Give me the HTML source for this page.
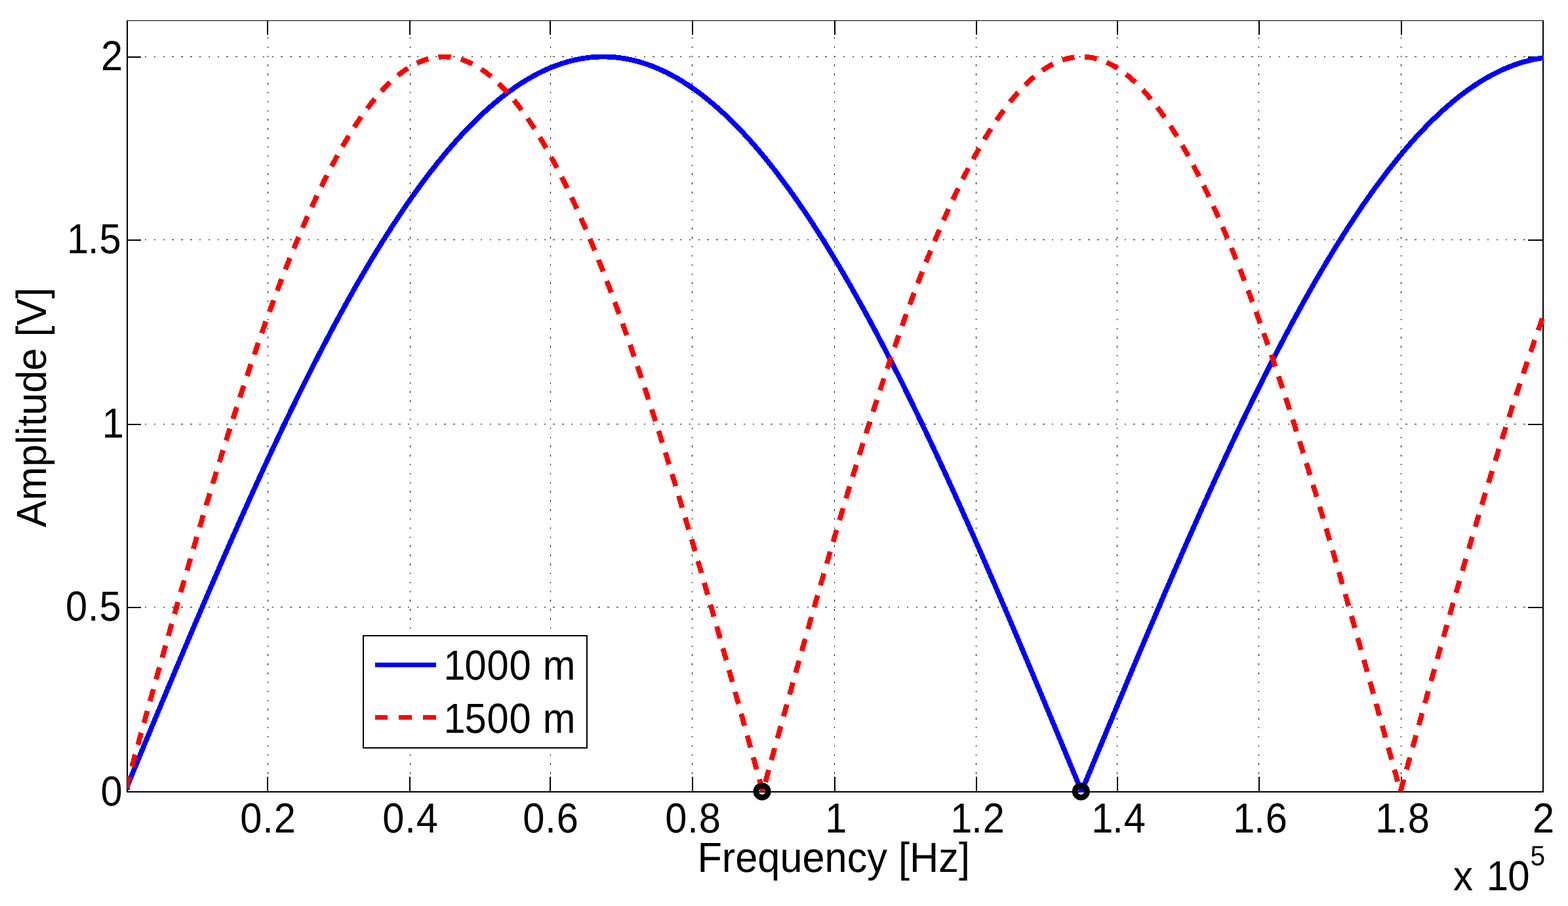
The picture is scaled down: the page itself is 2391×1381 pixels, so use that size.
<!DOCTYPE html>
<html lang="en"><head><meta charset="utf-8"><title>Amplitude vs Frequency</title>
<style>html,body{margin:0;padding:0;background:#fff;}body{width:2391px;height:1381px;overflow:hidden;}svg{display:block;}text{font-family:"Liberation Sans",sans-serif;fill:#000;text-rendering:geometricPrecision;}</style>
</head><body>
<svg width="2391" height="1381" viewBox="0 0 2391 1381">
<rect x="0" y="0" width="2391" height="1381" fill="#fff"/>
<defs><clipPath id="ax"><rect x="194" y="31" width="2162" height="1177"/></clipPath></defs>
<g fill="#000" shape-rendering="crispEdges">
<rect x="408" y="57" width="1" height="2"/><rect x="408" y="71" width="1" height="2"/><rect x="408" y="85" width="1" height="2"/><rect x="408" y="98" width="1" height="3"/><rect x="408" y="112" width="1" height="3"/><rect x="408" y="126" width="1" height="3"/><rect x="408" y="140" width="1" height="2"/><rect x="408" y="154" width="1" height="2"/><rect x="408" y="168" width="1" height="2"/><rect x="408" y="181" width="1" height="3"/><rect x="408" y="195" width="1" height="3"/><rect x="408" y="209" width="1" height="3"/><rect x="408" y="223" width="1" height="2"/><rect x="408" y="237" width="1" height="2"/><rect x="408" y="251" width="1" height="2"/><rect x="408" y="264" width="1" height="3"/><rect x="408" y="278" width="1" height="3"/><rect x="408" y="292" width="1" height="3"/><rect x="408" y="306" width="1" height="2"/><rect x="408" y="320" width="1" height="2"/><rect x="408" y="334" width="1" height="2"/><rect x="408" y="347" width="1" height="3"/><rect x="408" y="361" width="1" height="3"/><rect x="408" y="375" width="1" height="2"/><rect x="408" y="389" width="1" height="2"/><rect x="408" y="403" width="1" height="2"/><rect x="408" y="417" width="1" height="2"/><rect x="408" y="430" width="1" height="3"/><rect x="408" y="444" width="1" height="3"/><rect x="408" y="458" width="1" height="2"/><rect x="408" y="472" width="1" height="2"/><rect x="408" y="486" width="1" height="2"/><rect x="408" y="500" width="1" height="2"/><rect x="408" y="513" width="1" height="3"/><rect x="408" y="527" width="1" height="3"/><rect x="408" y="541" width="1" height="2"/><rect x="408" y="555" width="1" height="2"/><rect x="408" y="569" width="1" height="2"/><rect x="408" y="583" width="1" height="2"/><rect x="408" y="596" width="1" height="3"/><rect x="408" y="610" width="1" height="3"/><rect x="408" y="624" width="1" height="2"/><rect x="408" y="638" width="1" height="2"/><rect x="408" y="652" width="1" height="2"/><rect x="408" y="666" width="1" height="2"/><rect x="408" y="679" width="1" height="3"/><rect x="408" y="693" width="1" height="3"/><rect x="408" y="707" width="1" height="2"/><rect x="408" y="721" width="1" height="2"/><rect x="408" y="735" width="1" height="2"/><rect x="408" y="748" width="1" height="3"/><rect x="408" y="762" width="1" height="3"/><rect x="408" y="776" width="1" height="3"/><rect x="408" y="790" width="1" height="2"/><rect x="408" y="804" width="1" height="2"/><rect x="408" y="818" width="1" height="2"/><rect x="408" y="831" width="1" height="3"/><rect x="408" y="845" width="1" height="3"/><rect x="408" y="859" width="1" height="3"/><rect x="408" y="873" width="1" height="2"/><rect x="408" y="887" width="1" height="2"/><rect x="408" y="901" width="1" height="2"/><rect x="408" y="914" width="1" height="3"/><rect x="408" y="928" width="1" height="3"/><rect x="408" y="942" width="1" height="3"/><rect x="408" y="956" width="1" height="2"/><rect x="408" y="970" width="1" height="2"/><rect x="408" y="984" width="1" height="2"/><rect x="408" y="997" width="1" height="3"/><rect x="408" y="1011" width="1" height="3"/><rect x="408" y="1025" width="1" height="3"/><rect x="408" y="1039" width="1" height="2"/><rect x="408" y="1053" width="1" height="2"/><rect x="408" y="1067" width="1" height="2"/><rect x="408" y="1080" width="1" height="3"/><rect x="408" y="1094" width="1" height="3"/><rect x="408" y="1108" width="1" height="2"/><rect x="408" y="1122" width="1" height="2"/><rect x="408" y="1136" width="1" height="2"/><rect x="408" y="1150" width="1" height="2"/><rect x="408" y="1163" width="1" height="3"/><rect x="408" y="1177" width="1" height="3"/>
<rect x="625" y="57" width="1" height="2"/><rect x="625" y="71" width="1" height="2"/><rect x="625" y="85" width="1" height="2"/><rect x="625" y="98" width="1" height="3"/><rect x="625" y="112" width="1" height="3"/><rect x="625" y="126" width="1" height="3"/><rect x="625" y="140" width="1" height="2"/><rect x="625" y="154" width="1" height="2"/><rect x="625" y="168" width="1" height="2"/><rect x="625" y="181" width="1" height="3"/><rect x="625" y="195" width="1" height="3"/><rect x="625" y="209" width="1" height="3"/><rect x="625" y="223" width="1" height="2"/><rect x="625" y="237" width="1" height="2"/><rect x="625" y="251" width="1" height="2"/><rect x="625" y="264" width="1" height="3"/><rect x="625" y="278" width="1" height="3"/><rect x="625" y="292" width="1" height="3"/><rect x="625" y="306" width="1" height="2"/><rect x="625" y="320" width="1" height="2"/><rect x="625" y="334" width="1" height="2"/><rect x="625" y="347" width="1" height="3"/><rect x="625" y="361" width="1" height="3"/><rect x="625" y="375" width="1" height="2"/><rect x="625" y="389" width="1" height="2"/><rect x="625" y="403" width="1" height="2"/><rect x="625" y="417" width="1" height="2"/><rect x="625" y="430" width="1" height="3"/><rect x="625" y="444" width="1" height="3"/><rect x="625" y="458" width="1" height="2"/><rect x="625" y="472" width="1" height="2"/><rect x="625" y="486" width="1" height="2"/><rect x="625" y="500" width="1" height="2"/><rect x="625" y="513" width="1" height="3"/><rect x="625" y="527" width="1" height="3"/><rect x="625" y="541" width="1" height="2"/><rect x="625" y="555" width="1" height="2"/><rect x="625" y="569" width="1" height="2"/><rect x="625" y="583" width="1" height="2"/><rect x="625" y="596" width="1" height="3"/><rect x="625" y="610" width="1" height="3"/><rect x="625" y="624" width="1" height="2"/><rect x="625" y="638" width="1" height="2"/><rect x="625" y="652" width="1" height="2"/><rect x="625" y="666" width="1" height="2"/><rect x="625" y="679" width="1" height="3"/><rect x="625" y="693" width="1" height="3"/><rect x="625" y="707" width="1" height="2"/><rect x="625" y="721" width="1" height="2"/><rect x="625" y="735" width="1" height="2"/><rect x="625" y="748" width="1" height="3"/><rect x="625" y="762" width="1" height="3"/><rect x="625" y="776" width="1" height="3"/><rect x="625" y="790" width="1" height="2"/><rect x="625" y="804" width="1" height="2"/><rect x="625" y="818" width="1" height="2"/><rect x="625" y="831" width="1" height="3"/><rect x="625" y="845" width="1" height="3"/><rect x="625" y="859" width="1" height="3"/><rect x="625" y="873" width="1" height="2"/><rect x="625" y="887" width="1" height="2"/><rect x="625" y="901" width="1" height="2"/><rect x="625" y="914" width="1" height="3"/><rect x="625" y="928" width="1" height="3"/><rect x="625" y="942" width="1" height="3"/><rect x="625" y="956" width="1" height="2"/><rect x="625" y="970" width="1" height="2"/><rect x="625" y="984" width="1" height="2"/><rect x="625" y="997" width="1" height="3"/><rect x="625" y="1011" width="1" height="3"/><rect x="625" y="1025" width="1" height="3"/><rect x="625" y="1039" width="1" height="2"/><rect x="625" y="1053" width="1" height="2"/><rect x="625" y="1067" width="1" height="2"/><rect x="625" y="1080" width="1" height="3"/><rect x="625" y="1094" width="1" height="3"/><rect x="625" y="1108" width="1" height="2"/><rect x="625" y="1122" width="1" height="2"/><rect x="625" y="1136" width="1" height="2"/><rect x="625" y="1150" width="1" height="2"/><rect x="625" y="1163" width="1" height="3"/><rect x="625" y="1177" width="1" height="3"/>
<rect x="839" y="57" width="1" height="2"/><rect x="839" y="71" width="1" height="2"/><rect x="839" y="85" width="1" height="2"/><rect x="839" y="98" width="1" height="3"/><rect x="839" y="112" width="1" height="3"/><rect x="839" y="126" width="1" height="3"/><rect x="839" y="140" width="1" height="2"/><rect x="839" y="154" width="1" height="2"/><rect x="839" y="168" width="1" height="2"/><rect x="839" y="181" width="1" height="3"/><rect x="839" y="195" width="1" height="3"/><rect x="839" y="209" width="1" height="3"/><rect x="839" y="223" width="1" height="2"/><rect x="839" y="237" width="1" height="2"/><rect x="839" y="251" width="1" height="2"/><rect x="839" y="264" width="1" height="3"/><rect x="839" y="278" width="1" height="3"/><rect x="839" y="292" width="1" height="3"/><rect x="839" y="306" width="1" height="2"/><rect x="839" y="320" width="1" height="2"/><rect x="839" y="334" width="1" height="2"/><rect x="839" y="347" width="1" height="3"/><rect x="839" y="361" width="1" height="3"/><rect x="839" y="375" width="1" height="2"/><rect x="839" y="389" width="1" height="2"/><rect x="839" y="403" width="1" height="2"/><rect x="839" y="417" width="1" height="2"/><rect x="839" y="430" width="1" height="3"/><rect x="839" y="444" width="1" height="3"/><rect x="839" y="458" width="1" height="2"/><rect x="839" y="472" width="1" height="2"/><rect x="839" y="486" width="1" height="2"/><rect x="839" y="500" width="1" height="2"/><rect x="839" y="513" width="1" height="3"/><rect x="839" y="527" width="1" height="3"/><rect x="839" y="541" width="1" height="2"/><rect x="839" y="555" width="1" height="2"/><rect x="839" y="569" width="1" height="2"/><rect x="839" y="583" width="1" height="2"/><rect x="839" y="596" width="1" height="3"/><rect x="839" y="610" width="1" height="3"/><rect x="839" y="624" width="1" height="2"/><rect x="839" y="638" width="1" height="2"/><rect x="839" y="652" width="1" height="2"/><rect x="839" y="666" width="1" height="2"/><rect x="839" y="679" width="1" height="3"/><rect x="839" y="693" width="1" height="3"/><rect x="839" y="707" width="1" height="2"/><rect x="839" y="721" width="1" height="2"/><rect x="839" y="735" width="1" height="2"/><rect x="839" y="748" width="1" height="3"/><rect x="839" y="762" width="1" height="3"/><rect x="839" y="776" width="1" height="3"/><rect x="839" y="790" width="1" height="2"/><rect x="839" y="804" width="1" height="2"/><rect x="839" y="818" width="1" height="2"/><rect x="839" y="831" width="1" height="3"/><rect x="839" y="845" width="1" height="3"/><rect x="839" y="859" width="1" height="3"/><rect x="839" y="873" width="1" height="2"/><rect x="839" y="887" width="1" height="2"/><rect x="839" y="901" width="1" height="2"/><rect x="839" y="914" width="1" height="3"/><rect x="839" y="928" width="1" height="3"/><rect x="839" y="942" width="1" height="3"/><rect x="839" y="956" width="1" height="2"/><rect x="839" y="970" width="1" height="2"/><rect x="839" y="984" width="1" height="2"/><rect x="839" y="997" width="1" height="3"/><rect x="839" y="1011" width="1" height="3"/><rect x="839" y="1025" width="1" height="3"/><rect x="839" y="1039" width="1" height="2"/><rect x="839" y="1053" width="1" height="2"/><rect x="839" y="1067" width="1" height="2"/><rect x="839" y="1080" width="1" height="3"/><rect x="839" y="1094" width="1" height="3"/><rect x="839" y="1108" width="1" height="2"/><rect x="839" y="1122" width="1" height="2"/><rect x="839" y="1136" width="1" height="2"/><rect x="839" y="1150" width="1" height="2"/><rect x="839" y="1163" width="1" height="3"/><rect x="839" y="1177" width="1" height="3"/>
<rect x="1055" y="57" width="1" height="2"/><rect x="1055" y="71" width="1" height="2"/><rect x="1055" y="85" width="1" height="2"/><rect x="1055" y="98" width="1" height="3"/><rect x="1055" y="112" width="1" height="3"/><rect x="1055" y="126" width="1" height="3"/><rect x="1055" y="140" width="1" height="2"/><rect x="1055" y="154" width="1" height="2"/><rect x="1055" y="168" width="1" height="2"/><rect x="1055" y="181" width="1" height="3"/><rect x="1055" y="195" width="1" height="3"/><rect x="1055" y="209" width="1" height="3"/><rect x="1055" y="223" width="1" height="2"/><rect x="1055" y="237" width="1" height="2"/><rect x="1055" y="251" width="1" height="2"/><rect x="1055" y="264" width="1" height="3"/><rect x="1055" y="278" width="1" height="3"/><rect x="1055" y="292" width="1" height="3"/><rect x="1055" y="306" width="1" height="2"/><rect x="1055" y="320" width="1" height="2"/><rect x="1055" y="334" width="1" height="2"/><rect x="1055" y="347" width="1" height="3"/><rect x="1055" y="361" width="1" height="3"/><rect x="1055" y="375" width="1" height="2"/><rect x="1055" y="389" width="1" height="2"/><rect x="1055" y="403" width="1" height="2"/><rect x="1055" y="417" width="1" height="2"/><rect x="1055" y="430" width="1" height="3"/><rect x="1055" y="444" width="1" height="3"/><rect x="1055" y="458" width="1" height="2"/><rect x="1055" y="472" width="1" height="2"/><rect x="1055" y="486" width="1" height="2"/><rect x="1055" y="500" width="1" height="2"/><rect x="1055" y="513" width="1" height="3"/><rect x="1055" y="527" width="1" height="3"/><rect x="1055" y="541" width="1" height="2"/><rect x="1055" y="555" width="1" height="2"/><rect x="1055" y="569" width="1" height="2"/><rect x="1055" y="583" width="1" height="2"/><rect x="1055" y="596" width="1" height="3"/><rect x="1055" y="610" width="1" height="3"/><rect x="1055" y="624" width="1" height="2"/><rect x="1055" y="638" width="1" height="2"/><rect x="1055" y="652" width="1" height="2"/><rect x="1055" y="666" width="1" height="2"/><rect x="1055" y="679" width="1" height="3"/><rect x="1055" y="693" width="1" height="3"/><rect x="1055" y="707" width="1" height="2"/><rect x="1055" y="721" width="1" height="2"/><rect x="1055" y="735" width="1" height="2"/><rect x="1055" y="748" width="1" height="3"/><rect x="1055" y="762" width="1" height="3"/><rect x="1055" y="776" width="1" height="3"/><rect x="1055" y="790" width="1" height="2"/><rect x="1055" y="804" width="1" height="2"/><rect x="1055" y="818" width="1" height="2"/><rect x="1055" y="831" width="1" height="3"/><rect x="1055" y="845" width="1" height="3"/><rect x="1055" y="859" width="1" height="3"/><rect x="1055" y="873" width="1" height="2"/><rect x="1055" y="887" width="1" height="2"/><rect x="1055" y="901" width="1" height="2"/><rect x="1055" y="914" width="1" height="3"/><rect x="1055" y="928" width="1" height="3"/><rect x="1055" y="942" width="1" height="3"/><rect x="1055" y="956" width="1" height="2"/><rect x="1055" y="970" width="1" height="2"/><rect x="1055" y="984" width="1" height="2"/><rect x="1055" y="997" width="1" height="3"/><rect x="1055" y="1011" width="1" height="3"/><rect x="1055" y="1025" width="1" height="3"/><rect x="1055" y="1039" width="1" height="2"/><rect x="1055" y="1053" width="1" height="2"/><rect x="1055" y="1067" width="1" height="2"/><rect x="1055" y="1080" width="1" height="3"/><rect x="1055" y="1094" width="1" height="3"/><rect x="1055" y="1108" width="1" height="2"/><rect x="1055" y="1122" width="1" height="2"/><rect x="1055" y="1136" width="1" height="2"/><rect x="1055" y="1150" width="1" height="2"/><rect x="1055" y="1163" width="1" height="3"/><rect x="1055" y="1177" width="1" height="3"/>
<rect x="1272" y="57" width="1" height="2"/><rect x="1272" y="71" width="1" height="2"/><rect x="1272" y="85" width="1" height="2"/><rect x="1272" y="98" width="1" height="3"/><rect x="1272" y="112" width="1" height="3"/><rect x="1272" y="126" width="1" height="3"/><rect x="1272" y="140" width="1" height="2"/><rect x="1272" y="154" width="1" height="2"/><rect x="1272" y="168" width="1" height="2"/><rect x="1272" y="181" width="1" height="3"/><rect x="1272" y="195" width="1" height="3"/><rect x="1272" y="209" width="1" height="3"/><rect x="1272" y="223" width="1" height="2"/><rect x="1272" y="237" width="1" height="2"/><rect x="1272" y="251" width="1" height="2"/><rect x="1272" y="264" width="1" height="3"/><rect x="1272" y="278" width="1" height="3"/><rect x="1272" y="292" width="1" height="3"/><rect x="1272" y="306" width="1" height="2"/><rect x="1272" y="320" width="1" height="2"/><rect x="1272" y="334" width="1" height="2"/><rect x="1272" y="347" width="1" height="3"/><rect x="1272" y="361" width="1" height="3"/><rect x="1272" y="375" width="1" height="2"/><rect x="1272" y="389" width="1" height="2"/><rect x="1272" y="403" width="1" height="2"/><rect x="1272" y="417" width="1" height="2"/><rect x="1272" y="430" width="1" height="3"/><rect x="1272" y="444" width="1" height="3"/><rect x="1272" y="458" width="1" height="2"/><rect x="1272" y="472" width="1" height="2"/><rect x="1272" y="486" width="1" height="2"/><rect x="1272" y="500" width="1" height="2"/><rect x="1272" y="513" width="1" height="3"/><rect x="1272" y="527" width="1" height="3"/><rect x="1272" y="541" width="1" height="2"/><rect x="1272" y="555" width="1" height="2"/><rect x="1272" y="569" width="1" height="2"/><rect x="1272" y="583" width="1" height="2"/><rect x="1272" y="596" width="1" height="3"/><rect x="1272" y="610" width="1" height="3"/><rect x="1272" y="624" width="1" height="2"/><rect x="1272" y="638" width="1" height="2"/><rect x="1272" y="652" width="1" height="2"/><rect x="1272" y="666" width="1" height="2"/><rect x="1272" y="679" width="1" height="3"/><rect x="1272" y="693" width="1" height="3"/><rect x="1272" y="707" width="1" height="2"/><rect x="1272" y="721" width="1" height="2"/><rect x="1272" y="735" width="1" height="2"/><rect x="1272" y="748" width="1" height="3"/><rect x="1272" y="762" width="1" height="3"/><rect x="1272" y="776" width="1" height="3"/><rect x="1272" y="790" width="1" height="2"/><rect x="1272" y="804" width="1" height="2"/><rect x="1272" y="818" width="1" height="2"/><rect x="1272" y="831" width="1" height="3"/><rect x="1272" y="845" width="1" height="3"/><rect x="1272" y="859" width="1" height="3"/><rect x="1272" y="873" width="1" height="2"/><rect x="1272" y="887" width="1" height="2"/><rect x="1272" y="901" width="1" height="2"/><rect x="1272" y="914" width="1" height="3"/><rect x="1272" y="928" width="1" height="3"/><rect x="1272" y="942" width="1" height="3"/><rect x="1272" y="956" width="1" height="2"/><rect x="1272" y="970" width="1" height="2"/><rect x="1272" y="984" width="1" height="2"/><rect x="1272" y="997" width="1" height="3"/><rect x="1272" y="1011" width="1" height="3"/><rect x="1272" y="1025" width="1" height="3"/><rect x="1272" y="1039" width="1" height="2"/><rect x="1272" y="1053" width="1" height="2"/><rect x="1272" y="1067" width="1" height="2"/><rect x="1272" y="1080" width="1" height="3"/><rect x="1272" y="1094" width="1" height="3"/><rect x="1272" y="1108" width="1" height="2"/><rect x="1272" y="1122" width="1" height="2"/><rect x="1272" y="1136" width="1" height="2"/><rect x="1272" y="1150" width="1" height="2"/><rect x="1272" y="1163" width="1" height="3"/><rect x="1272" y="1177" width="1" height="3"/>
<rect x="1488" y="57" width="1" height="2"/><rect x="1488" y="71" width="1" height="2"/><rect x="1488" y="85" width="1" height="2"/><rect x="1488" y="98" width="1" height="3"/><rect x="1488" y="112" width="1" height="3"/><rect x="1488" y="126" width="1" height="3"/><rect x="1488" y="140" width="1" height="2"/><rect x="1488" y="154" width="1" height="2"/><rect x="1488" y="168" width="1" height="2"/><rect x="1488" y="181" width="1" height="3"/><rect x="1488" y="195" width="1" height="3"/><rect x="1488" y="209" width="1" height="3"/><rect x="1488" y="223" width="1" height="2"/><rect x="1488" y="237" width="1" height="2"/><rect x="1488" y="251" width="1" height="2"/><rect x="1488" y="264" width="1" height="3"/><rect x="1488" y="278" width="1" height="3"/><rect x="1488" y="292" width="1" height="3"/><rect x="1488" y="306" width="1" height="2"/><rect x="1488" y="320" width="1" height="2"/><rect x="1488" y="334" width="1" height="2"/><rect x="1488" y="347" width="1" height="3"/><rect x="1488" y="361" width="1" height="3"/><rect x="1488" y="375" width="1" height="2"/><rect x="1488" y="389" width="1" height="2"/><rect x="1488" y="403" width="1" height="2"/><rect x="1488" y="417" width="1" height="2"/><rect x="1488" y="430" width="1" height="3"/><rect x="1488" y="444" width="1" height="3"/><rect x="1488" y="458" width="1" height="2"/><rect x="1488" y="472" width="1" height="2"/><rect x="1488" y="486" width="1" height="2"/><rect x="1488" y="500" width="1" height="2"/><rect x="1488" y="513" width="1" height="3"/><rect x="1488" y="527" width="1" height="3"/><rect x="1488" y="541" width="1" height="2"/><rect x="1488" y="555" width="1" height="2"/><rect x="1488" y="569" width="1" height="2"/><rect x="1488" y="583" width="1" height="2"/><rect x="1488" y="596" width="1" height="3"/><rect x="1488" y="610" width="1" height="3"/><rect x="1488" y="624" width="1" height="2"/><rect x="1488" y="638" width="1" height="2"/><rect x="1488" y="652" width="1" height="2"/><rect x="1488" y="666" width="1" height="2"/><rect x="1488" y="679" width="1" height="3"/><rect x="1488" y="693" width="1" height="3"/><rect x="1488" y="707" width="1" height="2"/><rect x="1488" y="721" width="1" height="2"/><rect x="1488" y="735" width="1" height="2"/><rect x="1488" y="748" width="1" height="3"/><rect x="1488" y="762" width="1" height="3"/><rect x="1488" y="776" width="1" height="3"/><rect x="1488" y="790" width="1" height="2"/><rect x="1488" y="804" width="1" height="2"/><rect x="1488" y="818" width="1" height="2"/><rect x="1488" y="831" width="1" height="3"/><rect x="1488" y="845" width="1" height="3"/><rect x="1488" y="859" width="1" height="3"/><rect x="1488" y="873" width="1" height="2"/><rect x="1488" y="887" width="1" height="2"/><rect x="1488" y="901" width="1" height="2"/><rect x="1488" y="914" width="1" height="3"/><rect x="1488" y="928" width="1" height="3"/><rect x="1488" y="942" width="1" height="3"/><rect x="1488" y="956" width="1" height="2"/><rect x="1488" y="970" width="1" height="2"/><rect x="1488" y="984" width="1" height="2"/><rect x="1488" y="997" width="1" height="3"/><rect x="1488" y="1011" width="1" height="3"/><rect x="1488" y="1025" width="1" height="3"/><rect x="1488" y="1039" width="1" height="2"/><rect x="1488" y="1053" width="1" height="2"/><rect x="1488" y="1067" width="1" height="2"/><rect x="1488" y="1080" width="1" height="3"/><rect x="1488" y="1094" width="1" height="3"/><rect x="1488" y="1108" width="1" height="2"/><rect x="1488" y="1122" width="1" height="2"/><rect x="1488" y="1136" width="1" height="2"/><rect x="1488" y="1150" width="1" height="2"/><rect x="1488" y="1163" width="1" height="3"/><rect x="1488" y="1177" width="1" height="3"/>
<rect x="1703" y="57" width="1" height="2"/><rect x="1703" y="71" width="1" height="2"/><rect x="1703" y="85" width="1" height="2"/><rect x="1703" y="98" width="1" height="3"/><rect x="1703" y="112" width="1" height="3"/><rect x="1703" y="126" width="1" height="3"/><rect x="1703" y="140" width="1" height="2"/><rect x="1703" y="154" width="1" height="2"/><rect x="1703" y="168" width="1" height="2"/><rect x="1703" y="181" width="1" height="3"/><rect x="1703" y="195" width="1" height="3"/><rect x="1703" y="209" width="1" height="3"/><rect x="1703" y="223" width="1" height="2"/><rect x="1703" y="237" width="1" height="2"/><rect x="1703" y="251" width="1" height="2"/><rect x="1703" y="264" width="1" height="3"/><rect x="1703" y="278" width="1" height="3"/><rect x="1703" y="292" width="1" height="3"/><rect x="1703" y="306" width="1" height="2"/><rect x="1703" y="320" width="1" height="2"/><rect x="1703" y="334" width="1" height="2"/><rect x="1703" y="347" width="1" height="3"/><rect x="1703" y="361" width="1" height="3"/><rect x="1703" y="375" width="1" height="2"/><rect x="1703" y="389" width="1" height="2"/><rect x="1703" y="403" width="1" height="2"/><rect x="1703" y="417" width="1" height="2"/><rect x="1703" y="430" width="1" height="3"/><rect x="1703" y="444" width="1" height="3"/><rect x="1703" y="458" width="1" height="2"/><rect x="1703" y="472" width="1" height="2"/><rect x="1703" y="486" width="1" height="2"/><rect x="1703" y="500" width="1" height="2"/><rect x="1703" y="513" width="1" height="3"/><rect x="1703" y="527" width="1" height="3"/><rect x="1703" y="541" width="1" height="2"/><rect x="1703" y="555" width="1" height="2"/><rect x="1703" y="569" width="1" height="2"/><rect x="1703" y="583" width="1" height="2"/><rect x="1703" y="596" width="1" height="3"/><rect x="1703" y="610" width="1" height="3"/><rect x="1703" y="624" width="1" height="2"/><rect x="1703" y="638" width="1" height="2"/><rect x="1703" y="652" width="1" height="2"/><rect x="1703" y="666" width="1" height="2"/><rect x="1703" y="679" width="1" height="3"/><rect x="1703" y="693" width="1" height="3"/><rect x="1703" y="707" width="1" height="2"/><rect x="1703" y="721" width="1" height="2"/><rect x="1703" y="735" width="1" height="2"/><rect x="1703" y="748" width="1" height="3"/><rect x="1703" y="762" width="1" height="3"/><rect x="1703" y="776" width="1" height="3"/><rect x="1703" y="790" width="1" height="2"/><rect x="1703" y="804" width="1" height="2"/><rect x="1703" y="818" width="1" height="2"/><rect x="1703" y="831" width="1" height="3"/><rect x="1703" y="845" width="1" height="3"/><rect x="1703" y="859" width="1" height="3"/><rect x="1703" y="873" width="1" height="2"/><rect x="1703" y="887" width="1" height="2"/><rect x="1703" y="901" width="1" height="2"/><rect x="1703" y="914" width="1" height="3"/><rect x="1703" y="928" width="1" height="3"/><rect x="1703" y="942" width="1" height="3"/><rect x="1703" y="956" width="1" height="2"/><rect x="1703" y="970" width="1" height="2"/><rect x="1703" y="984" width="1" height="2"/><rect x="1703" y="997" width="1" height="3"/><rect x="1703" y="1011" width="1" height="3"/><rect x="1703" y="1025" width="1" height="3"/><rect x="1703" y="1039" width="1" height="2"/><rect x="1703" y="1053" width="1" height="2"/><rect x="1703" y="1067" width="1" height="2"/><rect x="1703" y="1080" width="1" height="3"/><rect x="1703" y="1094" width="1" height="3"/><rect x="1703" y="1108" width="1" height="2"/><rect x="1703" y="1122" width="1" height="2"/><rect x="1703" y="1136" width="1" height="2"/><rect x="1703" y="1150" width="1" height="2"/><rect x="1703" y="1163" width="1" height="3"/><rect x="1703" y="1177" width="1" height="3"/>
<rect x="1919" y="57" width="1" height="2"/><rect x="1919" y="71" width="1" height="2"/><rect x="1919" y="85" width="1" height="2"/><rect x="1919" y="98" width="1" height="3"/><rect x="1919" y="112" width="1" height="3"/><rect x="1919" y="126" width="1" height="3"/><rect x="1919" y="140" width="1" height="2"/><rect x="1919" y="154" width="1" height="2"/><rect x="1919" y="168" width="1" height="2"/><rect x="1919" y="181" width="1" height="3"/><rect x="1919" y="195" width="1" height="3"/><rect x="1919" y="209" width="1" height="3"/><rect x="1919" y="223" width="1" height="2"/><rect x="1919" y="237" width="1" height="2"/><rect x="1919" y="251" width="1" height="2"/><rect x="1919" y="264" width="1" height="3"/><rect x="1919" y="278" width="1" height="3"/><rect x="1919" y="292" width="1" height="3"/><rect x="1919" y="306" width="1" height="2"/><rect x="1919" y="320" width="1" height="2"/><rect x="1919" y="334" width="1" height="2"/><rect x="1919" y="347" width="1" height="3"/><rect x="1919" y="361" width="1" height="3"/><rect x="1919" y="375" width="1" height="2"/><rect x="1919" y="389" width="1" height="2"/><rect x="1919" y="403" width="1" height="2"/><rect x="1919" y="417" width="1" height="2"/><rect x="1919" y="430" width="1" height="3"/><rect x="1919" y="444" width="1" height="3"/><rect x="1919" y="458" width="1" height="2"/><rect x="1919" y="472" width="1" height="2"/><rect x="1919" y="486" width="1" height="2"/><rect x="1919" y="500" width="1" height="2"/><rect x="1919" y="513" width="1" height="3"/><rect x="1919" y="527" width="1" height="3"/><rect x="1919" y="541" width="1" height="2"/><rect x="1919" y="555" width="1" height="2"/><rect x="1919" y="569" width="1" height="2"/><rect x="1919" y="583" width="1" height="2"/><rect x="1919" y="596" width="1" height="3"/><rect x="1919" y="610" width="1" height="3"/><rect x="1919" y="624" width="1" height="2"/><rect x="1919" y="638" width="1" height="2"/><rect x="1919" y="652" width="1" height="2"/><rect x="1919" y="666" width="1" height="2"/><rect x="1919" y="679" width="1" height="3"/><rect x="1919" y="693" width="1" height="3"/><rect x="1919" y="707" width="1" height="2"/><rect x="1919" y="721" width="1" height="2"/><rect x="1919" y="735" width="1" height="2"/><rect x="1919" y="748" width="1" height="3"/><rect x="1919" y="762" width="1" height="3"/><rect x="1919" y="776" width="1" height="3"/><rect x="1919" y="790" width="1" height="2"/><rect x="1919" y="804" width="1" height="2"/><rect x="1919" y="818" width="1" height="2"/><rect x="1919" y="831" width="1" height="3"/><rect x="1919" y="845" width="1" height="3"/><rect x="1919" y="859" width="1" height="3"/><rect x="1919" y="873" width="1" height="2"/><rect x="1919" y="887" width="1" height="2"/><rect x="1919" y="901" width="1" height="2"/><rect x="1919" y="914" width="1" height="3"/><rect x="1919" y="928" width="1" height="3"/><rect x="1919" y="942" width="1" height="3"/><rect x="1919" y="956" width="1" height="2"/><rect x="1919" y="970" width="1" height="2"/><rect x="1919" y="984" width="1" height="2"/><rect x="1919" y="997" width="1" height="3"/><rect x="1919" y="1011" width="1" height="3"/><rect x="1919" y="1025" width="1" height="3"/><rect x="1919" y="1039" width="1" height="2"/><rect x="1919" y="1053" width="1" height="2"/><rect x="1919" y="1067" width="1" height="2"/><rect x="1919" y="1080" width="1" height="3"/><rect x="1919" y="1094" width="1" height="3"/><rect x="1919" y="1108" width="1" height="2"/><rect x="1919" y="1122" width="1" height="2"/><rect x="1919" y="1136" width="1" height="2"/><rect x="1919" y="1150" width="1" height="2"/><rect x="1919" y="1163" width="1" height="3"/><rect x="1919" y="1177" width="1" height="3"/>
<rect x="2136" y="57" width="1" height="2"/><rect x="2136" y="71" width="1" height="2"/><rect x="2136" y="85" width="1" height="2"/><rect x="2136" y="98" width="1" height="3"/><rect x="2136" y="112" width="1" height="3"/><rect x="2136" y="126" width="1" height="3"/><rect x="2136" y="140" width="1" height="2"/><rect x="2136" y="154" width="1" height="2"/><rect x="2136" y="168" width="1" height="2"/><rect x="2136" y="181" width="1" height="3"/><rect x="2136" y="195" width="1" height="3"/><rect x="2136" y="209" width="1" height="3"/><rect x="2136" y="223" width="1" height="2"/><rect x="2136" y="237" width="1" height="2"/><rect x="2136" y="251" width="1" height="2"/><rect x="2136" y="264" width="1" height="3"/><rect x="2136" y="278" width="1" height="3"/><rect x="2136" y="292" width="1" height="3"/><rect x="2136" y="306" width="1" height="2"/><rect x="2136" y="320" width="1" height="2"/><rect x="2136" y="334" width="1" height="2"/><rect x="2136" y="347" width="1" height="3"/><rect x="2136" y="361" width="1" height="3"/><rect x="2136" y="375" width="1" height="2"/><rect x="2136" y="389" width="1" height="2"/><rect x="2136" y="403" width="1" height="2"/><rect x="2136" y="417" width="1" height="2"/><rect x="2136" y="430" width="1" height="3"/><rect x="2136" y="444" width="1" height="3"/><rect x="2136" y="458" width="1" height="2"/><rect x="2136" y="472" width="1" height="2"/><rect x="2136" y="486" width="1" height="2"/><rect x="2136" y="500" width="1" height="2"/><rect x="2136" y="513" width="1" height="3"/><rect x="2136" y="527" width="1" height="3"/><rect x="2136" y="541" width="1" height="2"/><rect x="2136" y="555" width="1" height="2"/><rect x="2136" y="569" width="1" height="2"/><rect x="2136" y="583" width="1" height="2"/><rect x="2136" y="596" width="1" height="3"/><rect x="2136" y="610" width="1" height="3"/><rect x="2136" y="624" width="1" height="2"/><rect x="2136" y="638" width="1" height="2"/><rect x="2136" y="652" width="1" height="2"/><rect x="2136" y="666" width="1" height="2"/><rect x="2136" y="679" width="1" height="3"/><rect x="2136" y="693" width="1" height="3"/><rect x="2136" y="707" width="1" height="2"/><rect x="2136" y="721" width="1" height="2"/><rect x="2136" y="735" width="1" height="2"/><rect x="2136" y="748" width="1" height="3"/><rect x="2136" y="762" width="1" height="3"/><rect x="2136" y="776" width="1" height="3"/><rect x="2136" y="790" width="1" height="2"/><rect x="2136" y="804" width="1" height="2"/><rect x="2136" y="818" width="1" height="2"/><rect x="2136" y="831" width="1" height="3"/><rect x="2136" y="845" width="1" height="3"/><rect x="2136" y="859" width="1" height="3"/><rect x="2136" y="873" width="1" height="2"/><rect x="2136" y="887" width="1" height="2"/><rect x="2136" y="901" width="1" height="2"/><rect x="2136" y="914" width="1" height="3"/><rect x="2136" y="928" width="1" height="3"/><rect x="2136" y="942" width="1" height="3"/><rect x="2136" y="956" width="1" height="2"/><rect x="2136" y="970" width="1" height="2"/><rect x="2136" y="984" width="1" height="2"/><rect x="2136" y="997" width="1" height="3"/><rect x="2136" y="1011" width="1" height="3"/><rect x="2136" y="1025" width="1" height="3"/><rect x="2136" y="1039" width="1" height="2"/><rect x="2136" y="1053" width="1" height="2"/><rect x="2136" y="1067" width="1" height="2"/><rect x="2136" y="1080" width="1" height="3"/><rect x="2136" y="1094" width="1" height="3"/><rect x="2136" y="1108" width="1" height="2"/><rect x="2136" y="1122" width="1" height="2"/><rect x="2136" y="1136" width="1" height="2"/><rect x="2136" y="1150" width="1" height="2"/><rect x="2136" y="1163" width="1" height="3"/><rect x="2136" y="1177" width="1" height="3"/>
<rect x="221" y="925" width="2" height="1"/><rect x="235" y="925" width="2" height="1"/><rect x="249" y="925" width="2" height="1"/><rect x="262" y="925" width="3" height="1"/><rect x="276" y="925" width="3" height="1"/><rect x="290" y="925" width="3" height="1"/><rect x="304" y="925" width="2" height="1"/><rect x="318" y="925" width="2" height="1"/><rect x="332" y="925" width="2" height="1"/><rect x="345" y="925" width="3" height="1"/><rect x="359" y="925" width="3" height="1"/><rect x="373" y="925" width="3" height="1"/><rect x="387" y="925" width="2" height="1"/><rect x="401" y="925" width="2" height="1"/><rect x="415" y="925" width="2" height="1"/><rect x="428" y="925" width="3" height="1"/><rect x="442" y="925" width="3" height="1"/><rect x="456" y="925" width="3" height="1"/><rect x="470" y="925" width="2" height="1"/><rect x="484" y="925" width="2" height="1"/><rect x="498" y="925" width="2" height="1"/><rect x="511" y="925" width="3" height="1"/><rect x="525" y="925" width="3" height="1"/><rect x="539" y="925" width="2" height="1"/><rect x="553" y="925" width="2" height="1"/><rect x="567" y="925" width="2" height="1"/><rect x="581" y="925" width="2" height="1"/><rect x="594" y="925" width="3" height="1"/><rect x="608" y="925" width="3" height="1"/><rect x="622" y="925" width="2" height="1"/><rect x="636" y="925" width="2" height="1"/><rect x="650" y="925" width="2" height="1"/><rect x="664" y="925" width="2" height="1"/><rect x="677" y="925" width="3" height="1"/><rect x="691" y="925" width="3" height="1"/><rect x="705" y="925" width="2" height="1"/><rect x="719" y="925" width="2" height="1"/><rect x="733" y="925" width="2" height="1"/><rect x="747" y="925" width="2" height="1"/><rect x="760" y="925" width="3" height="1"/><rect x="774" y="925" width="3" height="1"/><rect x="788" y="925" width="2" height="1"/><rect x="802" y="925" width="2" height="1"/><rect x="816" y="925" width="2" height="1"/><rect x="830" y="925" width="2" height="1"/><rect x="843" y="925" width="3" height="1"/><rect x="857" y="925" width="3" height="1"/><rect x="871" y="925" width="2" height="1"/><rect x="885" y="925" width="2" height="1"/><rect x="899" y="925" width="2" height="1"/><rect x="912" y="925" width="3" height="1"/><rect x="926" y="925" width="3" height="1"/><rect x="940" y="925" width="3" height="1"/><rect x="954" y="925" width="2" height="1"/><rect x="968" y="925" width="2" height="1"/><rect x="982" y="925" width="2" height="1"/><rect x="995" y="925" width="3" height="1"/><rect x="1009" y="925" width="3" height="1"/><rect x="1023" y="925" width="3" height="1"/><rect x="1037" y="925" width="2" height="1"/><rect x="1051" y="925" width="2" height="1"/><rect x="1065" y="925" width="2" height="1"/><rect x="1078" y="925" width="3" height="1"/><rect x="1092" y="925" width="3" height="1"/><rect x="1106" y="925" width="3" height="1"/><rect x="1120" y="925" width="2" height="1"/><rect x="1134" y="925" width="2" height="1"/><rect x="1148" y="925" width="2" height="1"/><rect x="1161" y="925" width="3" height="1"/><rect x="1175" y="925" width="3" height="1"/><rect x="1189" y="925" width="3" height="1"/><rect x="1203" y="925" width="2" height="1"/><rect x="1217" y="925" width="2" height="1"/><rect x="1231" y="925" width="2" height="1"/><rect x="1244" y="925" width="3" height="1"/><rect x="1258" y="925" width="3" height="1"/><rect x="1272" y="925" width="2" height="1"/><rect x="1286" y="925" width="2" height="1"/><rect x="1300" y="925" width="2" height="1"/><rect x="1314" y="925" width="2" height="1"/><rect x="1327" y="925" width="3" height="1"/><rect x="1341" y="925" width="3" height="1"/><rect x="1355" y="925" width="2" height="1"/><rect x="1369" y="925" width="2" height="1"/><rect x="1383" y="925" width="2" height="1"/><rect x="1397" y="925" width="2" height="1"/><rect x="1410" y="925" width="3" height="1"/><rect x="1424" y="925" width="3" height="1"/><rect x="1438" y="925" width="2" height="1"/><rect x="1452" y="925" width="2" height="1"/><rect x="1466" y="925" width="2" height="1"/><rect x="1480" y="925" width="2" height="1"/><rect x="1493" y="925" width="3" height="1"/><rect x="1507" y="925" width="3" height="1"/><rect x="1521" y="925" width="2" height="1"/><rect x="1535" y="925" width="2" height="1"/><rect x="1549" y="925" width="2" height="1"/><rect x="1563" y="925" width="2" height="1"/><rect x="1576" y="925" width="3" height="1"/><rect x="1590" y="925" width="3" height="1"/><rect x="1604" y="925" width="2" height="1"/><rect x="1618" y="925" width="2" height="1"/><rect x="1632" y="925" width="2" height="1"/><rect x="1645" y="925" width="3" height="1"/><rect x="1659" y="925" width="3" height="1"/><rect x="1673" y="925" width="3" height="1"/><rect x="1687" y="925" width="2" height="1"/><rect x="1701" y="925" width="2" height="1"/><rect x="1715" y="925" width="2" height="1"/><rect x="1728" y="925" width="3" height="1"/><rect x="1742" y="925" width="3" height="1"/><rect x="1756" y="925" width="3" height="1"/><rect x="1770" y="925" width="2" height="1"/><rect x="1784" y="925" width="2" height="1"/><rect x="1798" y="925" width="2" height="1"/><rect x="1811" y="925" width="3" height="1"/><rect x="1825" y="925" width="3" height="1"/><rect x="1839" y="925" width="3" height="1"/><rect x="1853" y="925" width="2" height="1"/><rect x="1867" y="925" width="2" height="1"/><rect x="1881" y="925" width="2" height="1"/><rect x="1894" y="925" width="3" height="1"/><rect x="1908" y="925" width="3" height="1"/><rect x="1922" y="925" width="2" height="1"/><rect x="1936" y="925" width="2" height="1"/><rect x="1950" y="925" width="2" height="1"/><rect x="1964" y="925" width="2" height="1"/><rect x="1977" y="925" width="3" height="1"/><rect x="1991" y="925" width="3" height="1"/><rect x="2005" y="925" width="2" height="1"/><rect x="2019" y="925" width="2" height="1"/><rect x="2033" y="925" width="2" height="1"/><rect x="2047" y="925" width="2" height="1"/><rect x="2060" y="925" width="3" height="1"/><rect x="2074" y="925" width="3" height="1"/><rect x="2088" y="925" width="2" height="1"/><rect x="2102" y="925" width="2" height="1"/><rect x="2116" y="925" width="2" height="1"/><rect x="2130" y="925" width="2" height="1"/><rect x="2143" y="925" width="3" height="1"/><rect x="2157" y="925" width="3" height="1"/><rect x="2171" y="925" width="2" height="1"/><rect x="2185" y="925" width="2" height="1"/><rect x="2199" y="925" width="2" height="1"/><rect x="2213" y="925" width="2" height="1"/><rect x="2226" y="925" width="3" height="1"/><rect x="2240" y="925" width="3" height="1"/><rect x="2254" y="925" width="2" height="1"/><rect x="2268" y="925" width="2" height="1"/><rect x="2282" y="925" width="2" height="1"/><rect x="2296" y="925" width="2" height="1"/><rect x="2309" y="925" width="3" height="1"/><rect x="2323" y="925" width="3" height="1"/>
<rect x="221" y="646" width="2" height="1"/><rect x="235" y="646" width="2" height="1"/><rect x="249" y="646" width="2" height="1"/><rect x="262" y="646" width="3" height="1"/><rect x="276" y="646" width="3" height="1"/><rect x="290" y="646" width="3" height="1"/><rect x="304" y="646" width="2" height="1"/><rect x="318" y="646" width="2" height="1"/><rect x="332" y="646" width="2" height="1"/><rect x="345" y="646" width="3" height="1"/><rect x="359" y="646" width="3" height="1"/><rect x="373" y="646" width="3" height="1"/><rect x="387" y="646" width="2" height="1"/><rect x="401" y="646" width="2" height="1"/><rect x="415" y="646" width="2" height="1"/><rect x="428" y="646" width="3" height="1"/><rect x="442" y="646" width="3" height="1"/><rect x="456" y="646" width="3" height="1"/><rect x="470" y="646" width="2" height="1"/><rect x="484" y="646" width="2" height="1"/><rect x="498" y="646" width="2" height="1"/><rect x="511" y="646" width="3" height="1"/><rect x="525" y="646" width="3" height="1"/><rect x="539" y="646" width="2" height="1"/><rect x="553" y="646" width="2" height="1"/><rect x="567" y="646" width="2" height="1"/><rect x="581" y="646" width="2" height="1"/><rect x="594" y="646" width="3" height="1"/><rect x="608" y="646" width="3" height="1"/><rect x="622" y="646" width="2" height="1"/><rect x="636" y="646" width="2" height="1"/><rect x="650" y="646" width="2" height="1"/><rect x="664" y="646" width="2" height="1"/><rect x="677" y="646" width="3" height="1"/><rect x="691" y="646" width="3" height="1"/><rect x="705" y="646" width="2" height="1"/><rect x="719" y="646" width="2" height="1"/><rect x="733" y="646" width="2" height="1"/><rect x="747" y="646" width="2" height="1"/><rect x="760" y="646" width="3" height="1"/><rect x="774" y="646" width="3" height="1"/><rect x="788" y="646" width="2" height="1"/><rect x="802" y="646" width="2" height="1"/><rect x="816" y="646" width="2" height="1"/><rect x="830" y="646" width="2" height="1"/><rect x="843" y="646" width="3" height="1"/><rect x="857" y="646" width="3" height="1"/><rect x="871" y="646" width="2" height="1"/><rect x="885" y="646" width="2" height="1"/><rect x="899" y="646" width="2" height="1"/><rect x="912" y="646" width="3" height="1"/><rect x="926" y="646" width="3" height="1"/><rect x="940" y="646" width="3" height="1"/><rect x="954" y="646" width="2" height="1"/><rect x="968" y="646" width="2" height="1"/><rect x="982" y="646" width="2" height="1"/><rect x="995" y="646" width="3" height="1"/><rect x="1009" y="646" width="3" height="1"/><rect x="1023" y="646" width="3" height="1"/><rect x="1037" y="646" width="2" height="1"/><rect x="1051" y="646" width="2" height="1"/><rect x="1065" y="646" width="2" height="1"/><rect x="1078" y="646" width="3" height="1"/><rect x="1092" y="646" width="3" height="1"/><rect x="1106" y="646" width="3" height="1"/><rect x="1120" y="646" width="2" height="1"/><rect x="1134" y="646" width="2" height="1"/><rect x="1148" y="646" width="2" height="1"/><rect x="1161" y="646" width="3" height="1"/><rect x="1175" y="646" width="3" height="1"/><rect x="1189" y="646" width="3" height="1"/><rect x="1203" y="646" width="2" height="1"/><rect x="1217" y="646" width="2" height="1"/><rect x="1231" y="646" width="2" height="1"/><rect x="1244" y="646" width="3" height="1"/><rect x="1258" y="646" width="3" height="1"/><rect x="1272" y="646" width="2" height="1"/><rect x="1286" y="646" width="2" height="1"/><rect x="1300" y="646" width="2" height="1"/><rect x="1314" y="646" width="2" height="1"/><rect x="1327" y="646" width="3" height="1"/><rect x="1341" y="646" width="3" height="1"/><rect x="1355" y="646" width="2" height="1"/><rect x="1369" y="646" width="2" height="1"/><rect x="1383" y="646" width="2" height="1"/><rect x="1397" y="646" width="2" height="1"/><rect x="1410" y="646" width="3" height="1"/><rect x="1424" y="646" width="3" height="1"/><rect x="1438" y="646" width="2" height="1"/><rect x="1452" y="646" width="2" height="1"/><rect x="1466" y="646" width="2" height="1"/><rect x="1480" y="646" width="2" height="1"/><rect x="1493" y="646" width="3" height="1"/><rect x="1507" y="646" width="3" height="1"/><rect x="1521" y="646" width="2" height="1"/><rect x="1535" y="646" width="2" height="1"/><rect x="1549" y="646" width="2" height="1"/><rect x="1563" y="646" width="2" height="1"/><rect x="1576" y="646" width="3" height="1"/><rect x="1590" y="646" width="3" height="1"/><rect x="1604" y="646" width="2" height="1"/><rect x="1618" y="646" width="2" height="1"/><rect x="1632" y="646" width="2" height="1"/><rect x="1645" y="646" width="3" height="1"/><rect x="1659" y="646" width="3" height="1"/><rect x="1673" y="646" width="3" height="1"/><rect x="1687" y="646" width="2" height="1"/><rect x="1701" y="646" width="2" height="1"/><rect x="1715" y="646" width="2" height="1"/><rect x="1728" y="646" width="3" height="1"/><rect x="1742" y="646" width="3" height="1"/><rect x="1756" y="646" width="3" height="1"/><rect x="1770" y="646" width="2" height="1"/><rect x="1784" y="646" width="2" height="1"/><rect x="1798" y="646" width="2" height="1"/><rect x="1811" y="646" width="3" height="1"/><rect x="1825" y="646" width="3" height="1"/><rect x="1839" y="646" width="3" height="1"/><rect x="1853" y="646" width="2" height="1"/><rect x="1867" y="646" width="2" height="1"/><rect x="1881" y="646" width="2" height="1"/><rect x="1894" y="646" width="3" height="1"/><rect x="1908" y="646" width="3" height="1"/><rect x="1922" y="646" width="2" height="1"/><rect x="1936" y="646" width="2" height="1"/><rect x="1950" y="646" width="2" height="1"/><rect x="1964" y="646" width="2" height="1"/><rect x="1977" y="646" width="3" height="1"/><rect x="1991" y="646" width="3" height="1"/><rect x="2005" y="646" width="2" height="1"/><rect x="2019" y="646" width="2" height="1"/><rect x="2033" y="646" width="2" height="1"/><rect x="2047" y="646" width="2" height="1"/><rect x="2060" y="646" width="3" height="1"/><rect x="2074" y="646" width="3" height="1"/><rect x="2088" y="646" width="2" height="1"/><rect x="2102" y="646" width="2" height="1"/><rect x="2116" y="646" width="2" height="1"/><rect x="2130" y="646" width="2" height="1"/><rect x="2143" y="646" width="3" height="1"/><rect x="2157" y="646" width="3" height="1"/><rect x="2171" y="646" width="2" height="1"/><rect x="2185" y="646" width="2" height="1"/><rect x="2199" y="646" width="2" height="1"/><rect x="2213" y="646" width="2" height="1"/><rect x="2226" y="646" width="3" height="1"/><rect x="2240" y="646" width="3" height="1"/><rect x="2254" y="646" width="2" height="1"/><rect x="2268" y="646" width="2" height="1"/><rect x="2282" y="646" width="2" height="1"/><rect x="2296" y="646" width="2" height="1"/><rect x="2309" y="646" width="3" height="1"/><rect x="2323" y="646" width="3" height="1"/>
<rect x="221" y="365" width="2" height="1"/><rect x="235" y="365" width="2" height="1"/><rect x="249" y="365" width="2" height="1"/><rect x="262" y="365" width="3" height="1"/><rect x="276" y="365" width="3" height="1"/><rect x="290" y="365" width="3" height="1"/><rect x="304" y="365" width="2" height="1"/><rect x="318" y="365" width="2" height="1"/><rect x="332" y="365" width="2" height="1"/><rect x="345" y="365" width="3" height="1"/><rect x="359" y="365" width="3" height="1"/><rect x="373" y="365" width="3" height="1"/><rect x="387" y="365" width="2" height="1"/><rect x="401" y="365" width="2" height="1"/><rect x="415" y="365" width="2" height="1"/><rect x="428" y="365" width="3" height="1"/><rect x="442" y="365" width="3" height="1"/><rect x="456" y="365" width="3" height="1"/><rect x="470" y="365" width="2" height="1"/><rect x="484" y="365" width="2" height="1"/><rect x="498" y="365" width="2" height="1"/><rect x="511" y="365" width="3" height="1"/><rect x="525" y="365" width="3" height="1"/><rect x="539" y="365" width="2" height="1"/><rect x="553" y="365" width="2" height="1"/><rect x="567" y="365" width="2" height="1"/><rect x="581" y="365" width="2" height="1"/><rect x="594" y="365" width="3" height="1"/><rect x="608" y="365" width="3" height="1"/><rect x="622" y="365" width="2" height="1"/><rect x="636" y="365" width="2" height="1"/><rect x="650" y="365" width="2" height="1"/><rect x="664" y="365" width="2" height="1"/><rect x="677" y="365" width="3" height="1"/><rect x="691" y="365" width="3" height="1"/><rect x="705" y="365" width="2" height="1"/><rect x="719" y="365" width="2" height="1"/><rect x="733" y="365" width="2" height="1"/><rect x="747" y="365" width="2" height="1"/><rect x="760" y="365" width="3" height="1"/><rect x="774" y="365" width="3" height="1"/><rect x="788" y="365" width="2" height="1"/><rect x="802" y="365" width="2" height="1"/><rect x="816" y="365" width="2" height="1"/><rect x="830" y="365" width="2" height="1"/><rect x="843" y="365" width="3" height="1"/><rect x="857" y="365" width="3" height="1"/><rect x="871" y="365" width="2" height="1"/><rect x="885" y="365" width="2" height="1"/><rect x="899" y="365" width="2" height="1"/><rect x="912" y="365" width="3" height="1"/><rect x="926" y="365" width="3" height="1"/><rect x="940" y="365" width="3" height="1"/><rect x="954" y="365" width="2" height="1"/><rect x="968" y="365" width="2" height="1"/><rect x="982" y="365" width="2" height="1"/><rect x="995" y="365" width="3" height="1"/><rect x="1009" y="365" width="3" height="1"/><rect x="1023" y="365" width="3" height="1"/><rect x="1037" y="365" width="2" height="1"/><rect x="1051" y="365" width="2" height="1"/><rect x="1065" y="365" width="2" height="1"/><rect x="1078" y="365" width="3" height="1"/><rect x="1092" y="365" width="3" height="1"/><rect x="1106" y="365" width="3" height="1"/><rect x="1120" y="365" width="2" height="1"/><rect x="1134" y="365" width="2" height="1"/><rect x="1148" y="365" width="2" height="1"/><rect x="1161" y="365" width="3" height="1"/><rect x="1175" y="365" width="3" height="1"/><rect x="1189" y="365" width="3" height="1"/><rect x="1203" y="365" width="2" height="1"/><rect x="1217" y="365" width="2" height="1"/><rect x="1231" y="365" width="2" height="1"/><rect x="1244" y="365" width="3" height="1"/><rect x="1258" y="365" width="3" height="1"/><rect x="1272" y="365" width="2" height="1"/><rect x="1286" y="365" width="2" height="1"/><rect x="1300" y="365" width="2" height="1"/><rect x="1314" y="365" width="2" height="1"/><rect x="1327" y="365" width="3" height="1"/><rect x="1341" y="365" width="3" height="1"/><rect x="1355" y="365" width="2" height="1"/><rect x="1369" y="365" width="2" height="1"/><rect x="1383" y="365" width="2" height="1"/><rect x="1397" y="365" width="2" height="1"/><rect x="1410" y="365" width="3" height="1"/><rect x="1424" y="365" width="3" height="1"/><rect x="1438" y="365" width="2" height="1"/><rect x="1452" y="365" width="2" height="1"/><rect x="1466" y="365" width="2" height="1"/><rect x="1480" y="365" width="2" height="1"/><rect x="1493" y="365" width="3" height="1"/><rect x="1507" y="365" width="3" height="1"/><rect x="1521" y="365" width="2" height="1"/><rect x="1535" y="365" width="2" height="1"/><rect x="1549" y="365" width="2" height="1"/><rect x="1563" y="365" width="2" height="1"/><rect x="1576" y="365" width="3" height="1"/><rect x="1590" y="365" width="3" height="1"/><rect x="1604" y="365" width="2" height="1"/><rect x="1618" y="365" width="2" height="1"/><rect x="1632" y="365" width="2" height="1"/><rect x="1645" y="365" width="3" height="1"/><rect x="1659" y="365" width="3" height="1"/><rect x="1673" y="365" width="3" height="1"/><rect x="1687" y="365" width="2" height="1"/><rect x="1701" y="365" width="2" height="1"/><rect x="1715" y="365" width="2" height="1"/><rect x="1728" y="365" width="3" height="1"/><rect x="1742" y="365" width="3" height="1"/><rect x="1756" y="365" width="3" height="1"/><rect x="1770" y="365" width="2" height="1"/><rect x="1784" y="365" width="2" height="1"/><rect x="1798" y="365" width="2" height="1"/><rect x="1811" y="365" width="3" height="1"/><rect x="1825" y="365" width="3" height="1"/><rect x="1839" y="365" width="3" height="1"/><rect x="1853" y="365" width="2" height="1"/><rect x="1867" y="365" width="2" height="1"/><rect x="1881" y="365" width="2" height="1"/><rect x="1894" y="365" width="3" height="1"/><rect x="1908" y="365" width="3" height="1"/><rect x="1922" y="365" width="2" height="1"/><rect x="1936" y="365" width="2" height="1"/><rect x="1950" y="365" width="2" height="1"/><rect x="1964" y="365" width="2" height="1"/><rect x="1977" y="365" width="3" height="1"/><rect x="1991" y="365" width="3" height="1"/><rect x="2005" y="365" width="2" height="1"/><rect x="2019" y="365" width="2" height="1"/><rect x="2033" y="365" width="2" height="1"/><rect x="2047" y="365" width="2" height="1"/><rect x="2060" y="365" width="3" height="1"/><rect x="2074" y="365" width="3" height="1"/><rect x="2088" y="365" width="2" height="1"/><rect x="2102" y="365" width="2" height="1"/><rect x="2116" y="365" width="2" height="1"/><rect x="2130" y="365" width="2" height="1"/><rect x="2143" y="365" width="3" height="1"/><rect x="2157" y="365" width="3" height="1"/><rect x="2171" y="365" width="2" height="1"/><rect x="2185" y="365" width="2" height="1"/><rect x="2199" y="365" width="2" height="1"/><rect x="2213" y="365" width="2" height="1"/><rect x="2226" y="365" width="3" height="1"/><rect x="2240" y="365" width="3" height="1"/><rect x="2254" y="365" width="2" height="1"/><rect x="2268" y="365" width="2" height="1"/><rect x="2282" y="365" width="2" height="1"/><rect x="2296" y="365" width="2" height="1"/><rect x="2309" y="365" width="3" height="1"/><rect x="2323" y="365" width="3" height="1"/>
<rect x="221" y="86" width="2" height="1"/><rect x="235" y="86" width="2" height="1"/><rect x="249" y="86" width="2" height="1"/><rect x="262" y="86" width="3" height="1"/><rect x="276" y="86" width="3" height="1"/><rect x="290" y="86" width="3" height="1"/><rect x="304" y="86" width="2" height="1"/><rect x="318" y="86" width="2" height="1"/><rect x="332" y="86" width="2" height="1"/><rect x="345" y="86" width="3" height="1"/><rect x="359" y="86" width="3" height="1"/><rect x="373" y="86" width="3" height="1"/><rect x="387" y="86" width="2" height="1"/><rect x="401" y="86" width="2" height="1"/><rect x="415" y="86" width="2" height="1"/><rect x="428" y="86" width="3" height="1"/><rect x="442" y="86" width="3" height="1"/><rect x="456" y="86" width="3" height="1"/><rect x="470" y="86" width="2" height="1"/><rect x="484" y="86" width="2" height="1"/><rect x="498" y="86" width="2" height="1"/><rect x="511" y="86" width="3" height="1"/><rect x="525" y="86" width="3" height="1"/><rect x="539" y="86" width="2" height="1"/><rect x="553" y="86" width="2" height="1"/><rect x="567" y="86" width="2" height="1"/><rect x="581" y="86" width="2" height="1"/><rect x="594" y="86" width="3" height="1"/><rect x="608" y="86" width="3" height="1"/><rect x="622" y="86" width="2" height="1"/><rect x="636" y="86" width="2" height="1"/><rect x="650" y="86" width="2" height="1"/><rect x="664" y="86" width="2" height="1"/><rect x="677" y="86" width="3" height="1"/><rect x="691" y="86" width="3" height="1"/><rect x="705" y="86" width="2" height="1"/><rect x="719" y="86" width="2" height="1"/><rect x="733" y="86" width="2" height="1"/><rect x="747" y="86" width="2" height="1"/><rect x="760" y="86" width="3" height="1"/><rect x="774" y="86" width="3" height="1"/><rect x="788" y="86" width="2" height="1"/><rect x="802" y="86" width="2" height="1"/><rect x="816" y="86" width="2" height="1"/><rect x="830" y="86" width="2" height="1"/><rect x="843" y="86" width="3" height="1"/><rect x="857" y="86" width="3" height="1"/><rect x="871" y="86" width="2" height="1"/><rect x="885" y="86" width="2" height="1"/><rect x="899" y="86" width="2" height="1"/><rect x="912" y="86" width="3" height="1"/><rect x="926" y="86" width="3" height="1"/><rect x="940" y="86" width="3" height="1"/><rect x="954" y="86" width="2" height="1"/><rect x="968" y="86" width="2" height="1"/><rect x="982" y="86" width="2" height="1"/><rect x="995" y="86" width="3" height="1"/><rect x="1009" y="86" width="3" height="1"/><rect x="1023" y="86" width="3" height="1"/><rect x="1037" y="86" width="2" height="1"/><rect x="1051" y="86" width="2" height="1"/><rect x="1065" y="86" width="2" height="1"/><rect x="1078" y="86" width="3" height="1"/><rect x="1092" y="86" width="3" height="1"/><rect x="1106" y="86" width="3" height="1"/><rect x="1120" y="86" width="2" height="1"/><rect x="1134" y="86" width="2" height="1"/><rect x="1148" y="86" width="2" height="1"/><rect x="1161" y="86" width="3" height="1"/><rect x="1175" y="86" width="3" height="1"/><rect x="1189" y="86" width="3" height="1"/><rect x="1203" y="86" width="2" height="1"/><rect x="1217" y="86" width="2" height="1"/><rect x="1231" y="86" width="2" height="1"/><rect x="1244" y="86" width="3" height="1"/><rect x="1258" y="86" width="3" height="1"/><rect x="1272" y="86" width="2" height="1"/><rect x="1286" y="86" width="2" height="1"/><rect x="1300" y="86" width="2" height="1"/><rect x="1314" y="86" width="2" height="1"/><rect x="1327" y="86" width="3" height="1"/><rect x="1341" y="86" width="3" height="1"/><rect x="1355" y="86" width="2" height="1"/><rect x="1369" y="86" width="2" height="1"/><rect x="1383" y="86" width="2" height="1"/><rect x="1397" y="86" width="2" height="1"/><rect x="1410" y="86" width="3" height="1"/><rect x="1424" y="86" width="3" height="1"/><rect x="1438" y="86" width="2" height="1"/><rect x="1452" y="86" width="2" height="1"/><rect x="1466" y="86" width="2" height="1"/><rect x="1480" y="86" width="2" height="1"/><rect x="1493" y="86" width="3" height="1"/><rect x="1507" y="86" width="3" height="1"/><rect x="1521" y="86" width="2" height="1"/><rect x="1535" y="86" width="2" height="1"/><rect x="1549" y="86" width="2" height="1"/><rect x="1563" y="86" width="2" height="1"/><rect x="1576" y="86" width="3" height="1"/><rect x="1590" y="86" width="3" height="1"/><rect x="1604" y="86" width="2" height="1"/><rect x="1618" y="86" width="2" height="1"/><rect x="1632" y="86" width="2" height="1"/><rect x="1645" y="86" width="3" height="1"/><rect x="1659" y="86" width="3" height="1"/><rect x="1673" y="86" width="3" height="1"/><rect x="1687" y="86" width="2" height="1"/><rect x="1701" y="86" width="2" height="1"/><rect x="1715" y="86" width="2" height="1"/><rect x="1728" y="86" width="3" height="1"/><rect x="1742" y="86" width="3" height="1"/><rect x="1756" y="86" width="3" height="1"/><rect x="1770" y="86" width="2" height="1"/><rect x="1784" y="86" width="2" height="1"/><rect x="1798" y="86" width="2" height="1"/><rect x="1811" y="86" width="3" height="1"/><rect x="1825" y="86" width="3" height="1"/><rect x="1839" y="86" width="3" height="1"/><rect x="1853" y="86" width="2" height="1"/><rect x="1867" y="86" width="2" height="1"/><rect x="1881" y="86" width="2" height="1"/><rect x="1894" y="86" width="3" height="1"/><rect x="1908" y="86" width="3" height="1"/><rect x="1922" y="86" width="2" height="1"/><rect x="1936" y="86" width="2" height="1"/><rect x="1950" y="86" width="2" height="1"/><rect x="1964" y="86" width="2" height="1"/><rect x="1977" y="86" width="3" height="1"/><rect x="1991" y="86" width="3" height="1"/><rect x="2005" y="86" width="2" height="1"/><rect x="2019" y="86" width="2" height="1"/><rect x="2033" y="86" width="2" height="1"/><rect x="2047" y="86" width="2" height="1"/><rect x="2060" y="86" width="3" height="1"/><rect x="2074" y="86" width="3" height="1"/><rect x="2088" y="86" width="2" height="1"/><rect x="2102" y="86" width="2" height="1"/><rect x="2116" y="86" width="2" height="1"/><rect x="2130" y="86" width="2" height="1"/><rect x="2143" y="86" width="3" height="1"/><rect x="2157" y="86" width="3" height="1"/><rect x="2171" y="86" width="2" height="1"/><rect x="2185" y="86" width="2" height="1"/><rect x="2199" y="86" width="2" height="1"/><rect x="2213" y="86" width="2" height="1"/><rect x="2226" y="86" width="3" height="1"/><rect x="2240" y="86" width="3" height="1"/><rect x="2254" y="86" width="2" height="1"/><rect x="2268" y="86" width="2" height="1"/><rect x="2282" y="86" width="2" height="1"/><rect x="2296" y="86" width="2" height="1"/><rect x="2309" y="86" width="3" height="1"/><rect x="2323" y="86" width="3" height="1"/>
</g>
<g fill="#000" shape-rendering="crispEdges">
<rect x="193" y="31" width="2" height="1177"/>
<rect x="2352" y="31" width="2" height="1177"/>
<rect x="193" y="31" width="2161" height="1"/>
<rect x="193" y="1206" width="2161" height="2"/>
<rect x="407" y="31" width="2" height="22"/>
<rect x="407" y="1184" width="2" height="24"/>
<rect x="624" y="31" width="2" height="22"/>
<rect x="624" y="1184" width="2" height="24"/>
<rect x="838" y="31" width="2" height="22"/>
<rect x="838" y="1184" width="2" height="24"/>
<rect x="1055" y="31" width="2" height="22"/>
<rect x="1055" y="1184" width="2" height="24"/>
<rect x="1272" y="31" width="2" height="22"/>
<rect x="1272" y="1184" width="2" height="24"/>
<rect x="1488" y="31" width="2" height="22"/>
<rect x="1488" y="1184" width="2" height="24"/>
<rect x="1703" y="31" width="2" height="22"/>
<rect x="1703" y="1184" width="2" height="24"/>
<rect x="1919" y="31" width="2" height="22"/>
<rect x="1919" y="1184" width="2" height="24"/>
<rect x="2136" y="31" width="2" height="22"/>
<rect x="2136" y="1184" width="2" height="24"/>
<rect x="193" y="925" width="22" height="2"/>
<rect x="2330" y="925" width="24" height="2"/>
<rect x="193" y="646" width="22" height="2"/>
<rect x="2330" y="646" width="24" height="2"/>
<rect x="193" y="365" width="22" height="2"/>
<rect x="2330" y="365" width="24" height="2"/>
<rect x="193" y="86" width="22" height="2"/>
<rect x="2330" y="86" width="24" height="2"/>
</g>
<g clip-path="url(#ax)" fill="none" stroke-linejoin="round" shape-rendering="crispEdges">
<path d="M194.00 1203.50 L194.00 1198.30 L195.80 1193.96 L197.60 1189.62 L199.40 1185.27 L201.20 1180.93 L203.00 1176.59 L204.80 1172.25 L206.60 1167.91 L208.40 1163.57 L210.20 1159.24 L212.00 1154.90 L213.80 1150.56 L215.60 1146.22 L217.40 1141.89 L219.20 1137.56 L221.00 1133.22 L222.80 1128.89 L224.60 1124.56 L226.40 1120.23 L228.20 1115.90 L230.00 1111.57 L231.80 1107.25 L233.60 1102.92 L235.40 1098.60 L237.20 1094.28 L239.00 1089.96 L240.80 1085.64 L242.60 1081.33 L244.40 1077.02 L246.20 1072.70 L248.00 1068.39 L249.80 1064.09 L251.60 1059.78 L253.40 1055.48 L255.20 1051.18 L257.00 1046.88 L258.80 1042.58 L260.60 1038.29 L262.40 1034.00 L264.20 1029.71 L266.00 1025.42 L267.80 1021.14 L269.60 1016.86 L271.40 1012.58 L273.20 1008.30 L275.00 1004.03 L276.80 999.76 L278.60 995.50 L280.40 991.23 L282.20 986.97 L284.00 982.72 L285.80 978.47 L287.60 974.22 L289.40 969.97 L291.20 965.73 L293.00 961.49 L294.80 957.26 L296.60 953.02 L298.40 948.80 L300.20 944.57 L302.00 940.35 L303.80 936.14 L305.60 931.93 L307.40 927.72 L309.20 923.52 L311.00 919.32 L312.80 915.12 L314.60 910.93 L316.40 906.75 L318.20 902.57 L320.00 898.39 L321.80 894.22 L323.60 890.05 L325.40 885.89 L327.20 881.73 L329.00 877.58 L330.80 873.43 L332.60 869.29 L334.40 865.15 L336.20 861.01 L338.00 856.89 L339.80 852.76 L341.60 848.65 L343.40 844.54 L345.20 840.43 L347.00 836.33 L348.80 832.23 L350.60 828.14 L352.40 824.06 L354.20 819.98 L356.00 815.91 L357.80 811.84 L359.60 807.78 L361.40 803.73 L363.20 799.68 L365.00 795.64 L366.80 791.60 L368.60 787.57 L370.40 783.55 L372.20 779.53 L374.00 775.52 L375.80 771.52 L377.60 767.52 L379.40 763.53 L381.20 759.54 L383.00 755.57 L384.80 751.59 L386.60 747.63 L388.40 743.67 L390.20 739.72 L392.00 735.78 L393.80 731.84 L395.60 727.91 L397.40 723.99 L399.20 720.08 L401.00 716.17 L402.80 712.27 L404.60 708.38 L406.40 704.49 L408.20 700.61 L410.00 696.74 L411.80 692.88 L413.60 689.03 L415.40 685.18 L417.20 681.34 L419.00 677.51 L420.80 673.69 L422.60 669.87 L424.40 666.07 L426.20 662.27 L428.00 658.48 L429.80 654.69 L431.60 650.92 L433.40 647.15 L435.20 643.40 L437.00 639.65 L438.80 635.91 L440.60 632.17 L442.40 628.45 L444.20 624.74 L446.00 621.03 L447.80 617.33 L449.60 613.65 L451.40 609.97 L453.20 606.30 L455.00 602.63 L456.80 598.98 L458.60 595.34 L460.40 591.71 L462.20 588.08 L464.00 584.47 L465.80 580.86 L467.60 577.26 L469.40 573.68 L471.20 570.10 L473.00 566.53 L474.80 562.97 L476.60 559.42 L478.40 555.88 L480.20 552.35 L482.00 548.83 L483.80 545.32 L485.60 541.83 L487.40 538.34 L489.20 534.86 L491.00 531.39 L492.80 527.93 L494.60 524.48 L496.40 521.04 L498.20 517.61 L500.00 514.19 L501.80 510.78 L503.60 507.39 L505.40 504.00 L507.20 500.62 L509.00 497.26 L510.80 493.90 L512.60 490.56 L514.40 487.22 L516.20 483.90 L518.00 480.59 L519.80 477.29 L521.60 474.00 L523.40 470.72 L525.20 467.45 L527.00 464.20 L528.80 460.95 L530.60 457.71 L532.40 454.49 L534.20 451.28 L536.00 448.08 L537.80 444.89 L539.60 441.71 L541.40 438.55 L543.20 435.39 L545.00 432.25 L546.80 429.12 L548.60 426.00 L550.40 422.89 L552.20 419.79 L554.00 416.71 L555.80 413.63 L557.60 410.57 L559.40 407.53 L561.20 404.49 L563.00 401.46 L564.80 398.45 L566.60 395.45 L568.40 392.46 L570.20 389.49 L572.00 386.52 L573.80 383.57 L575.60 380.63 L577.40 377.71 L579.20 374.79 L581.00 371.89 L582.80 369.00 L584.60 366.12 L586.40 363.26 L588.20 360.41 L590.00 357.57 L591.80 354.74 L593.60 351.93 L595.40 349.13 L597.20 346.34 L599.00 343.57 L600.80 340.81 L602.60 338.06 L604.40 335.32 L606.20 332.60 L608.00 329.89 L609.80 327.20 L611.60 324.51 L613.40 321.85 L615.20 319.19 L617.00 316.55 L618.80 313.92 L620.60 311.30 L622.40 308.70 L624.20 306.11 L626.00 303.53 L627.80 300.97 L629.60 298.42 L631.40 295.89 L633.20 293.37 L635.00 290.86 L636.80 288.37 L638.60 285.89 L640.40 283.42 L642.20 280.97 L644.00 278.53 L645.80 276.11 L647.60 273.70 L649.40 271.30 L651.20 268.92 L653.00 266.55 L654.80 264.20 L656.60 261.86 L658.40 259.53 L660.20 257.22 L662.00 254.92 L663.80 252.64 L665.60 250.37 L667.40 248.12 L669.20 245.88 L671.00 243.65 L672.80 241.44 L674.60 239.25 L676.40 237.06 L678.20 234.90 L680.00 232.74 L681.80 230.61 L683.60 228.48 L685.40 226.38 L687.20 224.28 L689.00 222.20 L690.80 220.14 L692.60 218.09 L694.40 216.05 L696.20 214.03 L698.00 212.03 L699.80 210.04 L701.60 208.07 L703.40 206.11 L705.20 204.16 L707.00 202.23 L708.80 200.32 L710.60 198.42 L712.40 196.53 L714.20 194.66 L716.00 192.81 L717.80 190.97 L719.60 189.15 L721.40 187.34 L723.20 185.55 L725.00 183.77 L726.80 182.01 L728.60 180.26 L730.40 178.53 L732.20 176.81 L734.00 175.11 L735.80 173.43 L737.60 171.76 L739.40 170.10 L741.20 168.47 L743.00 166.84 L744.80 165.24 L746.60 163.64 L748.40 162.07 L750.20 160.51 L752.00 158.96 L753.80 157.44 L755.60 155.92 L757.40 154.43 L759.20 152.95 L761.00 151.48 L762.80 150.03 L764.60 148.60 L766.40 147.18 L768.20 145.78 L770.00 144.39 L771.80 143.02 L773.60 141.67 L775.40 140.33 L777.20 139.01 L779.00 137.70 L780.80 136.41 L782.60 135.14 L784.40 133.88 L786.20 132.64 L788.00 131.41 L789.80 130.20 L791.60 129.01 L793.40 127.84 L795.20 126.67 L797.00 125.53 L798.80 124.40 L800.60 123.29 L802.40 122.19 L804.20 121.12 L806.00 120.05 L807.80 119.01 L809.60 117.98 L811.40 116.96 L813.20 115.96 L815.00 114.98 L816.80 114.02 L818.60 113.07 L820.40 112.14 L822.20 111.22 L824.00 110.32 L825.80 109.44 L827.60 108.57 L829.40 107.73 L831.20 106.89 L833.00 106.08 L834.80 105.28 L836.60 104.49 L838.40 103.73 L840.20 102.98 L842.00 102.24 L843.80 101.52 L845.60 100.82 L847.40 100.14 L849.20 99.47 L851.00 98.82 L852.80 98.19 L854.60 97.57 L856.40 96.97 L858.20 96.39 L860.00 95.82 L861.80 95.27 L863.60 94.73 L865.40 94.22 L867.20 93.72 L869.00 93.23 L870.80 92.77 L872.60 92.32 L874.40 91.88 L876.20 91.47 L878.00 91.07 L879.80 90.68 L881.60 90.32 L883.40 89.97 L885.20 89.63 L887.00 89.32 L888.80 89.02 L890.60 88.73 L892.40 88.47 L894.20 88.22 L896.00 87.99 L897.80 87.77 L899.60 87.57 L901.40 87.39 L903.20 87.23 L905.00 87.08 L906.80 86.95 L908.60 86.83 L910.40 86.74 L912.20 86.66 L914.00 86.59 L915.80 86.54 L917.60 86.51 L919.40 86.50 L921.20 86.50 L923.00 86.52 L924.80 86.56 L926.60 86.62 L928.40 86.69 L930.20 86.77 L932.00 86.88 L933.80 87.00 L935.60 87.14 L937.40 87.29 L939.20 87.46 L941.00 87.65 L942.80 87.86 L944.60 88.08 L946.40 88.32 L948.20 88.57 L950.00 88.85 L951.80 89.14 L953.60 89.44 L955.40 89.77 L957.20 90.10 L959.00 90.46 L960.80 90.83 L962.60 91.22 L964.40 91.63 L966.20 92.05 L968.00 92.50 L969.80 92.95 L971.60 93.43 L973.40 93.92 L975.20 94.42 L977.00 94.95 L978.80 95.49 L980.60 96.05 L982.40 96.62 L984.20 97.21 L986.00 97.82 L987.80 98.44 L989.60 99.08 L991.40 99.74 L993.20 100.41 L995.00 101.10 L996.80 101.81 L998.60 102.53 L1000.40 103.28 L1002.20 104.03 L1004.00 104.81 L1005.80 105.60 L1007.60 106.40 L1009.40 107.23 L1011.20 108.07 L1013.00 108.92 L1014.80 109.79 L1016.60 110.68 L1018.40 111.59 L1020.20 112.51 L1022.00 113.45 L1023.80 114.40 L1025.60 115.38 L1027.40 116.36 L1029.20 117.37 L1031.00 118.39 L1032.80 119.43 L1034.60 120.48 L1036.40 121.55 L1038.20 122.63 L1040.00 123.74 L1041.80 124.85 L1043.60 125.99 L1045.40 127.14 L1047.20 128.31 L1049.00 129.49 L1050.80 130.69 L1052.60 131.91 L1054.40 133.14 L1056.20 134.39 L1058.00 135.65 L1059.80 136.93 L1061.60 138.23 L1063.40 139.54 L1065.20 140.87 L1067.00 142.21 L1068.80 143.57 L1070.60 144.95 L1072.40 146.34 L1074.20 147.75 L1076.00 149.17 L1077.80 150.61 L1079.60 152.07 L1081.40 153.54 L1083.20 155.03 L1085.00 156.53 L1086.80 158.05 L1088.60 159.58 L1090.40 161.14 L1092.20 162.70 L1094.00 164.28 L1095.80 165.88 L1097.60 167.49 L1099.40 169.12 L1101.20 170.77 L1103.00 172.43 L1104.80 174.10 L1106.60 175.80 L1108.40 177.50 L1110.20 179.22 L1112.00 180.96 L1113.80 182.71 L1115.60 184.48 L1117.40 186.27 L1119.20 188.07 L1121.00 189.88 L1122.80 191.71 L1124.60 193.55 L1126.40 195.41 L1128.20 197.29 L1130.00 199.18 L1131.80 201.09 L1133.60 203.01 L1135.40 204.94 L1137.20 206.89 L1139.00 208.86 L1140.80 210.84 L1142.60 212.84 L1144.40 214.85 L1146.20 216.87 L1148.00 218.91 L1149.80 220.97 L1151.60 223.04 L1153.40 225.12 L1155.20 227.22 L1157.00 229.34 L1158.80 231.47 L1160.60 233.61 L1162.40 235.77 L1164.20 237.94 L1166.00 240.13 L1167.80 242.33 L1169.60 244.55 L1171.40 246.78 L1173.20 249.02 L1175.00 251.28 L1176.80 253.56 L1178.60 255.85 L1180.40 258.15 L1182.20 260.47 L1184.00 262.80 L1185.80 265.14 L1187.60 267.50 L1189.40 269.88 L1191.20 272.26 L1193.00 274.67 L1194.80 277.08 L1196.60 279.51 L1198.40 281.96 L1200.20 284.41 L1202.00 286.88 L1203.80 289.37 L1205.60 291.87 L1207.40 294.38 L1209.20 296.91 L1211.00 299.45 L1212.80 302.00 L1214.60 304.57 L1216.40 307.15 L1218.20 309.75 L1220.00 312.35 L1221.80 314.97 L1223.60 317.61 L1225.40 320.26 L1227.20 322.92 L1229.00 325.59 L1230.80 328.28 L1232.60 330.98 L1234.40 333.70 L1236.20 336.42 L1238.00 339.17 L1239.80 341.92 L1241.60 344.69 L1243.40 347.47 L1245.20 350.26 L1247.00 353.06 L1248.80 355.88 L1250.60 358.71 L1252.40 361.56 L1254.20 364.41 L1256.00 367.28 L1257.80 370.16 L1259.60 373.06 L1261.40 375.96 L1263.20 378.88 L1265.00 381.81 L1266.80 384.76 L1268.60 387.72 L1270.40 390.68 L1272.20 393.66 L1274.00 396.66 L1275.80 399.66 L1277.60 402.68 L1279.40 405.71 L1281.20 408.75 L1283.00 411.81 L1284.80 414.87 L1286.60 417.95 L1288.40 421.04 L1290.20 424.14 L1292.00 427.25 L1293.80 430.38 L1295.60 433.51 L1297.40 436.66 L1299.20 439.82 L1301.00 442.99 L1302.80 446.17 L1304.60 449.37 L1306.40 452.57 L1308.20 455.79 L1310.00 459.02 L1311.80 462.26 L1313.60 465.51 L1315.40 468.77 L1317.20 472.04 L1319.00 475.32 L1320.80 478.62 L1322.60 481.92 L1324.40 485.24 L1326.20 488.57 L1328.00 491.90 L1329.80 495.25 L1331.60 498.61 L1333.40 501.98 L1335.20 505.36 L1337.00 508.75 L1338.80 512.16 L1340.60 515.57 L1342.40 518.99 L1344.20 522.42 L1346.00 525.87 L1347.80 529.32 L1349.60 532.78 L1351.40 536.26 L1353.20 539.74 L1355.00 543.23 L1356.80 546.74 L1358.60 550.25 L1360.40 553.77 L1362.20 557.31 L1364.00 560.85 L1365.80 564.40 L1367.60 567.97 L1369.40 571.54 L1371.20 575.12 L1373.00 578.71 L1374.80 582.31 L1376.60 585.92 L1378.40 589.54 L1380.20 593.17 L1382.00 596.81 L1383.80 600.45 L1385.60 604.11 L1387.40 607.77 L1389.20 611.45 L1391.00 615.13 L1392.80 618.82 L1394.60 622.52 L1396.40 626.23 L1398.20 629.95 L1400.00 633.68 L1401.80 637.41 L1403.60 641.16 L1405.40 644.91 L1407.20 648.67 L1409.00 652.44 L1410.80 656.22 L1412.60 660.00 L1414.40 663.80 L1416.20 667.60 L1418.00 671.41 L1419.80 675.23 L1421.60 679.05 L1423.40 682.89 L1425.20 686.73 L1427.00 690.58 L1428.80 694.44 L1430.60 698.30 L1432.40 702.18 L1434.20 706.06 L1436.00 709.94 L1437.80 713.84 L1439.60 717.74 L1441.40 721.65 L1443.20 725.57 L1445.00 729.50 L1446.80 733.43 L1448.60 737.37 L1450.40 741.31 L1452.20 745.27 L1454.00 749.23 L1455.80 753.19 L1457.60 757.17 L1459.40 761.15 L1461.20 765.13 L1463.00 769.13 L1464.80 773.13 L1466.60 777.14 L1468.40 781.15 L1470.20 785.17 L1472.00 789.19 L1473.80 793.23 L1475.60 797.27 L1477.40 801.31 L1479.20 805.36 L1481.00 809.42 L1482.80 813.48 L1484.60 817.55 L1486.40 821.62 L1488.20 825.71 L1490.00 829.79 L1491.80 833.88 L1493.60 837.98 L1495.40 842.08 L1497.20 846.19 L1499.00 850.31 L1500.80 854.42 L1502.60 858.55 L1504.40 862.68 L1506.20 866.81 L1508.00 870.95 L1509.80 875.10 L1511.60 879.25 L1513.40 883.40 L1515.20 887.56 L1517.00 891.73 L1518.80 895.90 L1520.60 900.07 L1522.40 904.25 L1524.20 908.43 L1526.00 912.62 L1527.80 916.81 L1529.60 921.01 L1531.40 925.21 L1533.20 929.41 L1535.00 933.62 L1536.80 937.84 L1538.60 942.05 L1540.40 946.27 L1542.20 950.50 L1544.00 954.73 L1545.80 958.96 L1547.60 963.20 L1549.40 967.44 L1551.20 971.68 L1553.00 975.93 L1554.80 980.18 L1556.60 984.43 L1558.40 988.69 L1560.20 992.95 L1562.00 997.21 L1563.80 1001.48 L1565.60 1005.75 L1567.40 1010.02 L1569.20 1014.30 L1571.00 1018.58 L1572.80 1022.86 L1574.60 1027.15 L1576.40 1031.43 L1578.20 1035.72 L1580.00 1040.02 L1581.80 1044.31 L1583.60 1048.61 L1585.40 1052.91 L1587.20 1057.21 L1589.00 1061.51 L1590.80 1065.82 L1592.60 1070.13 L1594.40 1074.44 L1596.20 1078.75 L1598.00 1083.07 L1599.80 1087.38 L1601.60 1091.70 L1603.40 1096.02 L1605.20 1100.34 L1607.00 1104.67 L1608.80 1108.99 L1610.60 1113.32 L1612.40 1117.64 L1614.20 1121.97 L1616.00 1126.30 L1617.80 1130.63 L1619.60 1134.97 L1621.40 1139.30 L1623.20 1143.64 L1625.00 1147.97 L1626.80 1152.31 L1628.60 1156.64 L1630.40 1160.98 L1632.20 1165.32 L1634.00 1169.66 L1635.80 1174.00 L1637.60 1178.34 L1639.40 1182.68 L1641.20 1187.02 L1643.00 1191.36 L1644.80 1195.71 L1646.60 1200.05 L1648.40 1204.39 L1650.20 1204.27 L1652.00 1199.93 L1653.80 1195.59 L1655.60 1191.24 L1657.40 1186.90 L1659.20 1182.56 L1661.00 1178.22 L1662.80 1173.88 L1664.60 1169.54 L1666.40 1165.20 L1668.20 1160.86 L1670.00 1156.52 L1671.80 1152.19 L1673.60 1147.85 L1675.40 1143.52 L1677.20 1139.18 L1679.00 1134.85 L1680.80 1130.51 L1682.60 1126.18 L1684.40 1121.85 L1686.20 1117.52 L1688.00 1113.20 L1689.80 1108.87 L1691.60 1104.55 L1693.40 1100.22 L1695.20 1095.90 L1697.00 1091.58 L1698.80 1087.26 L1700.60 1082.95 L1702.40 1078.63 L1704.20 1074.32 L1706.00 1070.01 L1707.80 1065.70 L1709.60 1061.39 L1711.40 1057.09 L1713.20 1052.79 L1715.00 1048.49 L1716.80 1044.19 L1718.60 1039.90 L1720.40 1035.60 L1722.20 1031.31 L1724.00 1027.03 L1725.80 1022.74 L1727.60 1018.46 L1729.40 1014.18 L1731.20 1009.91 L1733.00 1005.63 L1734.80 1001.36 L1736.60 997.10 L1738.40 992.83 L1740.20 988.57 L1742.00 984.31 L1743.80 980.06 L1745.60 975.81 L1747.40 971.56 L1749.20 967.32 L1751.00 963.08 L1752.80 958.84 L1754.60 954.61 L1756.40 950.38 L1758.20 946.16 L1760.00 941.94 L1761.80 937.72 L1763.60 933.51 L1765.40 929.30 L1767.20 925.09 L1769.00 920.89 L1770.80 916.70 L1772.60 912.50 L1774.40 908.32 L1776.20 904.13 L1778.00 899.95 L1779.80 895.78 L1781.60 891.61 L1783.40 887.45 L1785.20 883.29 L1787.00 879.13 L1788.80 874.98 L1790.60 870.84 L1792.40 866.70 L1794.20 862.56 L1796.00 858.43 L1797.80 854.31 L1799.60 850.19 L1801.40 846.08 L1803.20 841.97 L1805.00 837.87 L1806.80 833.77 L1808.60 829.68 L1810.40 825.59 L1812.20 821.51 L1814.00 817.44 L1815.80 813.37 L1817.60 809.31 L1819.40 805.25 L1821.20 801.20 L1823.00 797.15 L1824.80 793.12 L1826.60 789.08 L1828.40 785.06 L1830.20 781.04 L1832.00 777.02 L1833.80 773.02 L1835.60 769.02 L1837.40 765.02 L1839.20 761.04 L1841.00 757.06 L1842.80 753.08 L1844.60 749.12 L1846.40 745.16 L1848.20 741.20 L1850.00 737.26 L1851.80 733.32 L1853.60 729.39 L1855.40 725.46 L1857.20 721.54 L1859.00 717.63 L1860.80 713.73 L1862.60 709.84 L1864.40 705.95 L1866.20 702.07 L1868.00 698.19 L1869.80 694.33 L1871.60 690.47 L1873.40 686.62 L1875.20 682.78 L1877.00 678.95 L1878.80 675.12 L1880.60 671.30 L1882.40 667.49 L1884.20 663.69 L1886.00 659.90 L1887.80 656.11 L1889.60 652.33 L1891.40 648.56 L1893.20 644.80 L1895.00 641.05 L1896.80 637.31 L1898.60 633.57 L1900.40 629.85 L1902.20 626.13 L1904.00 622.42 L1905.80 618.72 L1907.60 615.03 L1909.40 611.34 L1911.20 607.67 L1913.00 604.01 L1914.80 600.35 L1916.60 596.70 L1918.40 593.07 L1920.20 589.44 L1922.00 585.82 L1923.80 582.21 L1925.60 578.61 L1927.40 575.02 L1929.20 571.44 L1931.00 567.87 L1932.80 564.30 L1934.60 560.75 L1936.40 557.21 L1938.20 553.68 L1940.00 550.15 L1941.80 546.64 L1943.60 543.14 L1945.40 539.64 L1947.20 536.16 L1949.00 532.69 L1950.80 529.22 L1952.60 525.77 L1954.40 522.33 L1956.20 518.89 L1958.00 515.47 L1959.80 512.06 L1961.60 508.66 L1963.40 505.27 L1965.20 501.89 L1967.00 498.52 L1968.80 495.16 L1970.60 491.81 L1972.40 488.47 L1974.20 485.15 L1976.00 481.83 L1977.80 478.53 L1979.60 475.23 L1981.40 471.95 L1983.20 468.68 L1985.00 465.42 L1986.80 462.17 L1988.60 458.93 L1990.40 455.70 L1992.20 452.48 L1994.00 449.28 L1995.80 446.08 L1997.60 442.90 L1999.40 439.73 L2001.20 436.57 L2003.00 433.43 L2004.80 430.29 L2006.60 427.16 L2008.40 424.05 L2010.20 420.95 L2012.00 417.86 L2013.80 414.79 L2015.60 411.72 L2017.40 408.67 L2019.20 405.63 L2021.00 402.60 L2022.80 399.58 L2024.60 396.57 L2026.40 393.58 L2028.20 390.60 L2030.00 387.63 L2031.80 384.68 L2033.60 381.73 L2035.40 378.80 L2037.20 375.88 L2039.00 372.98 L2040.80 370.08 L2042.60 367.20 L2044.40 364.33 L2046.20 361.48 L2048.00 358.63 L2049.80 355.80 L2051.60 352.98 L2053.40 350.18 L2055.20 347.39 L2057.00 344.61 L2058.80 341.84 L2060.60 339.09 L2062.40 336.35 L2064.20 333.62 L2066.00 330.91 L2067.80 328.21 L2069.60 325.52 L2071.40 322.84 L2073.20 320.18 L2075.00 317.54 L2076.80 314.90 L2078.60 312.28 L2080.40 309.67 L2082.20 307.08 L2084.00 304.50 L2085.80 301.93 L2087.60 299.38 L2089.40 296.84 L2091.20 294.31 L2093.00 291.80 L2094.80 289.30 L2096.60 286.82 L2098.40 284.34 L2100.20 281.89 L2102.00 279.44 L2103.80 277.01 L2105.60 274.60 L2107.40 272.20 L2109.20 269.81 L2111.00 267.44 L2112.80 265.08 L2114.60 262.73 L2116.40 260.40 L2118.20 258.09 L2120.00 255.78 L2121.80 253.49 L2123.60 251.22 L2125.40 248.96 L2127.20 246.72 L2129.00 244.49 L2130.80 242.27 L2132.60 240.07 L2134.40 237.88 L2136.20 235.71 L2138.00 233.55 L2139.80 231.41 L2141.60 229.28 L2143.40 227.16 L2145.20 225.06 L2147.00 222.98 L2148.80 220.91 L2150.60 218.86 L2152.40 216.82 L2154.20 214.79 L2156.00 212.78 L2157.80 210.78 L2159.60 208.80 L2161.40 206.84 L2163.20 204.89 L2165.00 202.95 L2166.80 201.03 L2168.60 199.13 L2170.40 197.24 L2172.20 195.36 L2174.00 193.50 L2175.80 191.66 L2177.60 189.83 L2179.40 188.02 L2181.20 186.22 L2183.00 184.43 L2184.80 182.67 L2186.60 180.91 L2188.40 179.18 L2190.20 177.45 L2192.00 175.75 L2193.80 174.06 L2195.60 172.38 L2197.40 170.72 L2199.20 169.08 L2201.00 167.45 L2202.80 165.84 L2204.60 164.24 L2206.40 162.66 L2208.20 161.09 L2210.00 159.54 L2211.80 158.01 L2213.60 156.49 L2215.40 154.99 L2217.20 153.50 L2219.00 152.03 L2220.80 150.57 L2222.60 149.13 L2224.40 147.71 L2226.20 146.30 L2228.00 144.91 L2229.80 143.53 L2231.60 142.17 L2233.40 140.83 L2235.20 139.50 L2237.00 138.19 L2238.80 136.89 L2240.60 135.61 L2242.40 134.35 L2244.20 133.10 L2246.00 131.87 L2247.80 130.66 L2249.60 129.46 L2251.40 128.27 L2253.20 127.11 L2255.00 125.96 L2256.80 124.82 L2258.60 123.71 L2260.40 122.60 L2262.20 121.52 L2264.00 120.45 L2265.80 119.40 L2267.60 118.36 L2269.40 117.34 L2271.20 116.34 L2273.00 115.35 L2274.80 114.38 L2276.60 113.42 L2278.40 112.49 L2280.20 111.56 L2282.00 110.66 L2283.80 109.77 L2285.60 108.90 L2287.40 108.04 L2289.20 107.20 L2291.00 106.38 L2292.80 105.57 L2294.60 104.78 L2296.40 104.01 L2298.20 103.25 L2300.00 102.51 L2301.80 101.79 L2303.60 101.08 L2305.40 100.39 L2307.20 99.72 L2309.00 99.06 L2310.80 98.42 L2312.60 97.80 L2314.40 97.19 L2316.20 96.60 L2318.00 96.03 L2319.80 95.47 L2321.60 94.93 L2323.40 94.41 L2325.20 93.90 L2327.00 93.41 L2328.80 92.94 L2330.60 92.48 L2332.40 92.04 L2334.20 91.62 L2336.00 91.21 L2337.80 90.82 L2339.60 90.45 L2341.40 90.10 L2343.20 89.76 L2345.00 89.43 L2346.80 89.13 L2348.60 88.84 L2350.40 88.57 L2352.20 88.31 L2354.00 88.07" stroke="#0000ff" stroke-width="7.80"/>
<path d="M194.00 1202.00 L194.00 1194.20 L195.35 1189.31 L196.70 1184.42 L198.06 1179.53 L199.41 1174.64 L200.76 1169.75 L202.11 1164.86 L203.46 1159.97 L204.82 1155.08 L206.17 1150.20 L207.52 1145.31 L208.87 1140.43 L210.22 1135.54 L211.58 1130.66 L212.93 1125.78 L214.28 1120.91 L215.63 1116.03 L216.98 1111.15 L218.34 1106.28 L219.69 1101.41 L221.04 1096.54 L222.39 1091.67 L223.74 1086.81 L225.09 1081.95 L226.45 1077.09 L227.80 1072.23 L229.15 1067.37 L230.50 1062.52 L231.85 1057.67 L233.21 1052.82 L234.56 1047.98 L235.91 1043.14 L237.26 1038.30 L238.61 1033.47 L239.97 1028.64 L241.32 1023.81 L242.67 1018.98 L244.02 1014.16 L245.37 1009.34 L246.73 1004.53 L248.08 999.72 L249.43 994.92 L250.78 990.11 L252.13 985.32 L253.49 980.52 L254.84 975.73 L256.19 970.95 L257.54 966.17 L258.89 961.39 L260.25 956.62 L261.60 951.86 L262.95 947.10 L264.30 942.34 L265.65 937.59 L267.01 932.84 L268.36 928.10 L269.71 923.37 L271.06 918.64 L272.41 913.91 L273.77 909.19 L275.12 904.48 L276.47 899.77 L277.82 895.07 L279.17 890.37 L280.53 885.68 L281.88 881.00 L283.23 876.32 L284.58 871.65 L285.93 866.99 L287.28 862.33 L288.64 857.68 L289.99 853.03 L291.34 848.39 L292.69 843.76 L294.04 839.14 L295.40 834.52 L296.75 829.91 L298.10 825.31 L299.45 820.71 L300.80 816.12 L302.16 811.54 L303.51 806.97 L304.86 802.40 L306.21 797.84 L307.56 793.29 L308.92 788.75 L310.27 784.21 L311.62 779.69 L312.97 775.17 L314.32 770.66 L315.68 766.16 L317.03 761.66 L318.38 757.18 L319.73 752.70 L321.08 748.23 L322.44 743.77 L323.79 739.32 L325.14 734.88 L326.49 730.45 L327.84 726.03 L329.20 721.61 L330.55 717.21 L331.90 712.81 L333.25 708.43 L334.60 704.05 L335.96 699.68 L337.31 695.33 L338.66 690.98 L340.01 686.64 L341.36 682.31 L342.72 677.99 L344.07 673.69 L345.42 669.39 L346.77 665.10 L348.12 660.82 L349.47 656.56 L350.83 652.30 L352.18 648.06 L353.53 643.82 L354.88 639.60 L356.23 635.38 L357.59 631.18 L358.94 626.99 L360.29 622.81 L361.64 618.64 L362.99 614.48 L364.35 610.33 L365.70 606.20 L367.05 602.07 L368.40 597.96 L369.75 593.86 L371.11 589.77 L372.46 585.69 L373.81 581.63 L375.16 577.58 L376.51 573.53 L377.87 569.50 L379.22 565.49 L380.57 561.48 L381.92 557.49 L383.27 553.51 L384.63 549.54 L385.98 545.58 L387.33 541.64 L388.68 537.71 L390.03 533.79 L391.39 529.89 L392.74 526.00 L394.09 522.12 L395.44 518.25 L396.79 514.40 L398.15 510.56 L399.50 506.74 L400.85 502.92 L402.20 499.12 L403.55 495.34 L404.91 491.57 L406.26 487.81 L407.61 484.06 L408.96 480.33 L410.31 476.61 L411.66 472.91 L413.02 469.22 L414.37 465.55 L415.72 461.88 L417.07 458.24 L418.42 454.60 L419.78 450.99 L421.13 447.38 L422.48 443.79 L423.83 440.22 L425.18 436.66 L426.54 433.11 L427.89 429.58 L429.24 426.06 L430.59 422.56 L431.94 419.08 L433.30 415.61 L434.65 412.15 L436.00 408.71 L437.35 405.28 L438.70 401.87 L440.06 398.48 L441.41 395.10 L442.76 391.73 L444.11 388.39 L445.46 385.05 L446.82 381.74 L448.17 378.43 L449.52 375.15 L450.87 371.88 L452.22 368.62 L453.58 365.39 L454.93 362.16 L456.28 358.96 L457.63 355.77 L458.98 352.59 L460.34 349.44 L461.69 346.30 L463.04 343.17 L464.39 340.06 L465.74 336.97 L467.09 333.90 L468.45 330.84 L469.80 327.80 L471.15 324.77 L472.50 321.77 L473.85 318.77 L475.21 315.80 L476.56 312.84 L477.91 309.90 L479.26 306.98 L480.61 304.07 L481.97 301.19 L483.32 298.31 L484.67 295.46 L486.02 292.62 L487.37 289.80 L488.73 287.00 L490.08 284.22 L491.43 281.45 L492.78 278.70 L494.13 275.97 L495.49 273.26 L496.84 270.56 L498.19 267.88 L499.54 265.22 L500.89 262.58 L502.25 259.96 L503.60 257.35 L504.95 254.76 L506.30 252.20 L507.65 249.64 L509.01 247.11 L510.36 244.60 L511.71 242.10 L513.06 239.62 L514.41 237.16 L515.77 234.72 L517.12 232.30 L518.47 229.89 L519.82 227.51 L521.17 225.14 L522.53 222.79 L523.88 220.46 L525.23 218.15 L526.58 215.86 L527.93 213.59 L529.28 211.33 L530.64 209.10 L531.99 206.88 L533.34 204.69 L534.69 202.51 L536.04 200.35 L537.40 198.21 L538.75 196.09 L540.10 193.99 L541.45 191.91 L542.80 189.85 L544.16 187.81 L545.51 185.78 L546.86 183.78 L548.21 181.79 L549.56 179.83 L550.92 177.88 L552.27 175.96 L553.62 174.05 L554.97 172.17 L556.32 170.30 L557.68 168.45 L559.03 166.63 L560.38 164.82 L561.73 163.03 L563.08 161.26 L564.44 159.52 L565.79 157.79 L567.14 156.08 L568.49 154.40 L569.84 152.73 L571.20 151.08 L572.55 149.45 L573.90 147.85 L575.25 146.26 L576.60 144.69 L577.96 143.15 L579.31 141.62 L580.66 140.12 L582.01 138.63 L583.36 137.17 L584.72 135.72 L586.07 134.30 L587.42 132.89 L588.77 131.51 L590.12 130.15 L591.47 128.81 L592.83 127.49 L594.18 126.18 L595.53 124.90 L596.88 123.64 L598.23 122.41 L599.59 121.19 L600.94 119.99 L602.29 118.81 L603.64 117.66 L604.99 116.52 L606.35 115.41 L607.70 114.31 L609.05 113.24 L610.40 112.19 L611.75 111.16 L613.11 110.15 L614.46 109.16 L615.81 108.19 L617.16 107.24 L618.51 106.31 L619.87 105.41 L621.22 104.52 L622.57 103.66 L623.92 102.82 L625.27 102.00 L626.63 101.20 L627.98 100.42 L629.33 99.66 L630.68 98.92 L632.03 98.21 L633.39 97.51 L634.74 96.84 L636.09 96.18 L637.44 95.55 L638.79 94.94 L640.15 94.35 L641.50 93.79 L642.85 93.24 L644.20 92.71 L645.55 92.21 L646.91 91.73 L648.26 91.27 L649.61 90.83 L650.96 90.41 L652.31 90.01 L653.66 89.63 L655.02 89.28 L656.37 88.94 L657.72 88.63 L659.07 88.34 L660.42 88.07 L661.78 87.82 L663.13 87.60 L664.48 87.39 L665.83 87.21 L667.18 87.04 L668.54 86.90 L669.89 86.78 L671.24 86.68 L672.59 86.60 L673.94 86.55 L675.30 86.51 L676.65 86.50 L678.00 86.51" stroke="#ff0000" stroke-width="7.80" stroke-dasharray="19.000 15.490" stroke-dashoffset="0.000"/>
<path d="M678.00 86.51 L679.35 86.54 L680.70 86.59 L682.05 86.66 L683.40 86.75 L684.76 86.87 L686.11 87.00 L687.46 87.16 L688.81 87.34 L690.16 87.54 L691.51 87.76 L692.86 88.00 L694.21 88.27 L695.56 88.55 L696.92 88.86 L698.27 89.19 L699.62 89.53 L700.97 89.91 L702.32 90.30 L703.67 90.71 L705.02 91.14 L706.37 91.60 L707.72 92.08 L709.08 92.57 L710.43 93.09 L711.78 93.63 L713.13 94.19 L714.48 94.78 L715.83 95.38 L717.18 96.01 L718.53 96.65 L719.88 97.32 L721.24 98.01 L722.59 98.72 L723.94 99.45 L725.29 100.20 L726.64 100.97 L727.99 101.77 L729.34 102.58 L730.69 103.42 L732.04 104.27 L733.40 105.15 L734.75 106.05 L736.10 106.97 L737.45 107.91 L738.80 108.87 L740.15 109.86 L741.50 110.86 L742.85 111.88 L744.20 112.93 L745.56 114.00 L746.91 115.08 L748.26 116.19 L749.61 117.32 L750.96 118.47 L752.31 119.64 L753.66 120.83 L755.01 122.04 L756.36 123.27 L757.72 124.53 L759.07 125.80 L760.42 127.09 L761.77 128.41 L763.12 129.74 L764.47 131.10 L765.82 132.47 L767.17 133.87 L768.52 135.29 L769.88 136.73 L771.23 138.18 L772.58 139.66 L773.93 141.16 L775.28 142.68 L776.63 144.22 L777.98 145.78 L779.33 147.36 L780.68 148.96 L782.04 150.58 L783.39 152.21 L784.74 153.87 L786.09 155.55 L787.44 157.25 L788.79 158.97 L790.14 160.71 L791.49 162.47 L792.84 164.25 L794.20 166.05 L795.55 167.87 L796.90 169.71 L798.25 171.57 L799.60 173.45 L800.95 175.35 L802.30 177.27 L803.65 179.21 L805.00 181.16 L806.36 183.14 L807.71 185.14 L809.06 187.15 L810.41 189.19 L811.76 191.24 L813.11 193.31 L814.46 195.41 L815.81 197.52 L817.16 199.65 L818.52 201.80 L819.87 203.97 L821.22 206.16 L822.57 208.37 L823.92 210.60 L825.27 212.84 L826.62 215.11 L827.97 217.39 L829.32 219.70 L830.68 222.02 L832.03 224.36 L833.38 226.72 L834.73 229.09 L836.08 231.49 L837.43 233.91 L838.78 236.34 L840.13 238.79 L841.48 241.26 L842.84 243.75 L844.19 246.26 L845.54 248.78 L846.89 251.33 L848.24 253.89 L849.59 256.47 L850.94 259.07 L852.29 261.68 L853.64 264.32 L855.00 266.97 L856.35 269.64 L857.70 272.33 L859.05 275.03 L860.40 277.76 L861.75 280.50 L863.10 283.26 L864.45 286.03 L865.80 288.83 L867.16 291.64 L868.51 294.47 L869.86 297.31 L871.21 300.18 L872.56 303.06 L873.91 305.96 L875.26 308.87 L876.61 311.80 L877.96 314.75 L879.32 317.72 L880.67 320.70 L882.02 323.70 L883.37 326.72 L884.72 329.75 L886.07 332.80 L887.42 335.87 L888.77 338.95 L890.12 342.05 L891.48 345.17 L892.83 348.30 L894.18 351.45 L895.53 354.62 L896.88 357.80 L898.23 361.00 L899.58 364.21 L900.93 367.44 L902.28 370.69 L903.64 373.95 L904.99 377.23 L906.34 380.52 L907.69 383.83 L909.04 387.16 L910.39 390.50 L911.74 393.85 L913.09 397.23 L914.44 400.61 L915.80 404.02 L917.15 407.43 L918.50 410.87 L919.85 414.32 L921.20 417.78 L922.55 421.26 L923.90 424.75 L925.25 428.26 L926.61 431.78 L927.96 435.32 L929.31 438.87 L930.66 442.44 L932.01 446.02 L933.36 449.62 L934.71 453.23 L936.06 456.85 L937.41 460.49 L938.77 464.15 L940.12 467.81 L941.47 471.49 L942.82 475.19 L944.17 478.90 L945.52 482.62 L946.87 486.36 L948.22 490.11 L949.57 493.88 L950.93 497.65 L952.28 501.45 L953.63 505.25 L954.98 509.07 L956.33 512.90 L957.68 516.75 L959.03 520.61 L960.38 524.48 L961.73 528.36 L963.09 532.26 L964.44 536.17 L965.79 540.09 L967.14 544.03 L968.49 547.97 L969.84 551.93 L971.19 555.91 L972.54 559.89 L973.89 563.89 L975.25 567.90 L976.60 571.92 L977.95 575.96 L979.30 580.00 L980.65 584.06 L982.00 588.13 L983.35 592.21 L984.70 596.31 L986.05 600.41 L987.41 604.53 L988.76 608.66 L990.11 612.80 L991.46 616.95 L992.81 621.11 L994.16 625.28 L995.51 629.47 L996.86 633.66 L998.21 637.87 L999.57 642.09 L1000.92 646.32 L1002.27 650.55 L1003.62 654.80 L1004.97 659.06 L1006.32 663.33 L1007.67 667.61 L1009.02 671.90 L1010.37 676.21 L1011.73 680.52 L1013.08 684.84 L1014.43 689.17 L1015.78 693.51 L1017.13 697.86 L1018.48 702.22 L1019.83 706.59 L1021.18 710.97 L1022.53 715.36 L1023.89 719.76 L1025.24 724.16 L1026.59 728.58 L1027.94 733.01 L1029.29 737.44 L1030.64 741.89 L1031.99 746.34 L1033.34 750.80 L1034.69 755.27 L1036.05 759.75 L1037.40 764.24 L1038.75 768.73 L1040.10 773.24 L1041.45 777.75 L1042.80 782.27 L1044.15 786.80 L1045.50 791.33 L1046.85 795.88 L1048.21 800.43 L1049.56 804.99 L1050.91 809.56 L1052.26 814.13 L1053.61 818.71 L1054.96 823.30 L1056.31 827.90 L1057.66 832.51 L1059.01 837.12 L1060.37 841.74 L1061.72 846.36 L1063.07 850.99 L1064.42 855.63 L1065.77 860.28 L1067.12 864.93 L1068.47 869.59 L1069.82 874.26 L1071.17 878.93 L1072.53 883.61 L1073.88 888.29 L1075.23 892.98 L1076.58 897.68 L1077.93 902.38 L1079.28 907.09 L1080.63 911.80 L1081.98 916.52 L1083.33 921.24 L1084.69 925.98 L1086.04 930.71 L1087.39 935.45 L1088.74 940.20 L1090.09 944.95 L1091.44 949.70 L1092.79 954.47 L1094.14 959.23 L1095.49 964.00 L1096.85 968.78 L1098.20 973.56 L1099.55 978.34 L1100.90 983.13 L1102.25 987.92 L1103.60 992.72 L1104.95 997.52 L1106.30 1002.32 L1107.65 1007.13 L1109.01 1011.94 L1110.36 1016.76 L1111.71 1021.58 L1113.06 1026.40 L1114.41 1031.23 L1115.76 1036.06 L1117.11 1040.89 L1118.46 1045.73 L1119.81 1050.57 L1121.17 1055.41 L1122.52 1060.26 L1123.87 1065.11 L1125.22 1069.96 L1126.57 1074.81 L1127.92 1079.67 L1129.27 1084.53 L1130.62 1089.39 L1131.97 1094.25 L1133.33 1099.11 L1134.68 1103.98 L1136.03 1108.85 L1137.38 1113.72 L1138.73 1118.59 L1140.08 1123.47 L1141.43 1128.34 L1142.78 1133.22 L1144.13 1138.10 L1145.49 1142.98 L1146.84 1147.86 L1148.19 1152.75 L1149.54 1157.63 L1150.89 1162.51 L1152.24 1167.40 L1153.59 1172.28 L1154.94 1177.17 L1156.29 1182.06 L1157.65 1186.95 L1159.00 1191.83 L1160.35 1196.72 L1161.70 1201.61 L1163.05 1206.50" stroke="#ff0000" stroke-width="7.80" stroke-dasharray="19.000 15.549" stroke-dashoffset="9.500"/>
<path d="M1163.05 1206.50 L1164.40 1201.61 L1165.75 1196.71 L1167.11 1191.82 L1168.46 1186.93 L1169.81 1182.03 L1171.16 1177.14 L1172.52 1172.25 L1173.87 1167.36 L1175.22 1162.47 L1176.57 1157.58 L1177.93 1152.69 L1179.28 1147.80 L1180.63 1142.92 L1181.98 1138.03 L1183.34 1133.15 L1184.69 1128.27 L1186.04 1123.38 L1187.39 1118.51 L1188.75 1113.63 L1190.10 1108.75 L1191.45 1103.88 L1192.80 1099.01 L1194.16 1094.14 L1195.51 1089.27 L1196.86 1084.40 L1198.21 1079.54 L1199.57 1074.68 L1200.92 1069.82 L1202.27 1064.96 L1203.62 1060.11 L1204.98 1055.26 L1206.33 1050.41 L1207.68 1045.57 L1209.03 1040.73 L1210.39 1035.89 L1211.74 1031.05 L1213.09 1026.22 L1214.44 1021.40 L1215.80 1016.57 L1217.15 1011.75 L1218.50 1006.93 L1219.85 1002.12 L1221.21 997.31 L1222.56 992.50 L1223.91 987.70 L1225.26 982.91 L1226.62 978.11 L1227.97 973.32 L1229.32 968.54 L1230.67 963.76 L1232.03 958.99 L1233.38 954.21 L1234.73 949.45 L1236.08 944.69 L1237.44 939.93 L1238.79 935.18 L1240.14 930.44 L1241.49 925.70 L1242.85 920.96 L1244.20 916.23 L1245.55 911.51 L1246.90 906.79 L1248.26 902.08 L1249.61 897.37 L1250.96 892.67 L1252.31 887.98 L1253.67 883.29 L1255.02 878.61 L1256.37 873.93 L1257.72 869.26 L1259.08 864.60 L1260.43 859.94 L1261.78 855.29 L1263.13 850.65 L1264.49 846.01 L1265.84 841.38 L1267.19 836.76 L1268.54 832.14 L1269.90 827.53 L1271.25 822.93 L1272.60 818.34 L1273.95 813.75 L1275.31 809.17 L1276.66 804.60 L1278.01 800.04 L1279.36 795.48 L1280.72 790.93 L1282.07 786.39 L1283.42 781.86 L1284.77 777.34 L1286.13 772.82 L1287.48 768.31 L1288.83 763.81 L1290.18 759.32 L1291.54 754.84 L1292.89 750.37 L1294.24 745.90 L1295.59 741.45 L1296.95 737.00 L1298.30 732.56 L1299.65 728.13 L1301.00 723.71 L1302.36 719.30 L1303.71 714.90 L1305.06 710.50 L1306.41 706.12 L1307.77 701.75 L1309.12 697.39 L1310.47 693.03 L1311.82 688.69 L1313.18 684.35 L1314.53 680.03 L1315.88 675.71 L1317.23 671.41 L1318.59 667.12 L1319.94 662.83 L1321.29 658.56 L1322.64 654.30 L1324.00 650.04 L1325.35 645.80 L1326.70 641.57 L1328.05 637.35 L1329.40 633.14 L1330.76 628.94 L1332.11 624.76 L1333.46 620.58 L1334.81 616.42 L1336.17 612.26 L1337.52 608.12 L1338.87 603.99 L1340.22 599.87 L1341.58 595.76 L1342.93 591.67 L1344.28 587.58 L1345.63 583.51 L1346.99 579.45 L1348.34 575.40 L1349.69 571.36 L1351.04 567.34 L1352.40 563.33 L1353.75 559.33 L1355.10 555.34 L1356.45 551.36 L1357.81 547.40 L1359.16 543.45 L1360.51 539.51 L1361.86 535.59 L1363.22 531.67 L1364.57 527.78 L1365.92 523.89 L1367.27 520.02 L1368.63 516.16 L1369.98 512.31 L1371.33 508.48 L1372.68 504.65 L1374.04 500.85 L1375.39 497.05 L1376.74 493.27 L1378.09 489.51 L1379.45 485.76 L1380.80 482.02 L1382.15 478.29 L1383.50 474.58 L1384.86 470.88 L1386.21 467.20 L1387.56 463.53 L1388.91 459.88 L1390.27 456.24 L1391.62 452.61 L1392.97 449.00 L1394.32 445.40 L1395.68 441.82 L1397.03 438.25 L1398.38 434.70 L1399.73 431.16 L1401.09 427.63 L1402.44 424.12 L1403.79 420.63 L1405.14 417.15 L1406.50 413.69 L1407.85 410.24 L1409.20 406.80 L1410.55 403.39 L1411.91 399.98 L1413.26 396.59 L1414.61 393.22 L1415.96 389.87 L1417.32 386.52 L1418.67 383.20 L1420.02 379.89 L1421.37 376.59 L1422.73 373.32 L1424.08 370.05 L1425.43 366.81 L1426.78 363.58 L1428.14 360.36 L1429.49 357.17 L1430.84 353.98 L1432.19 350.82 L1433.55 347.67 L1434.90 344.54 L1436.25 341.42 L1437.60 338.32 L1438.96 335.24 L1440.31 332.17 L1441.66 329.12 L1443.01 326.09 L1444.37 323.07 L1445.72 320.07 L1447.07 317.09 L1448.42 314.12 L1449.78 311.17 L1451.13 308.24 L1452.48 305.33 L1453.83 302.43 L1455.19 299.55 L1456.54 296.69 L1457.89 293.84 L1459.24 291.01 L1460.60 288.20 L1461.95 285.41 L1463.30 282.64 L1464.65 279.88 L1466.01 277.14 L1467.36 274.42 L1468.71 271.71 L1470.06 269.03 L1471.42 266.36 L1472.77 263.71 L1474.12 261.07 L1475.47 258.46 L1476.83 255.86 L1478.18 253.28 L1479.53 250.72 L1480.88 248.18 L1482.24 245.66 L1483.59 243.15 L1484.94 240.67 L1486.29 238.20 L1487.65 235.75 L1489.00 233.32 L1490.35 230.90 L1491.70 228.51 L1493.05 226.13 L1494.41 223.78 L1495.76 221.44 L1497.11 219.12 L1498.46 216.82 L1499.82 214.54 L1501.17 212.27 L1502.52 210.03 L1503.87 207.81 L1505.23 205.60 L1506.58 203.41 L1507.93 201.25 L1509.28 199.10 L1510.64 196.97 L1511.99 194.86 L1513.34 192.77 L1514.69 190.70 L1516.05 188.65 L1517.40 186.62 L1518.75 184.60 L1520.10 182.61 L1521.46 180.64 L1522.81 178.68 L1524.16 176.75 L1525.51 174.83 L1526.87 172.94 L1528.22 171.06 L1529.57 169.21 L1530.92 167.37 L1532.28 165.56 L1533.63 163.76 L1534.98 161.98 L1536.33 160.23 L1537.69 158.49 L1539.04 156.78 L1540.39 155.08 L1541.74 153.40 L1543.10 151.75 L1544.45 150.11 L1545.80 148.50 L1547.15 146.90 L1548.51 145.33 L1549.86 143.77 L1551.21 142.24 L1552.56 140.72 L1553.92 139.23 L1555.27 137.75 L1556.62 136.30 L1557.97 134.87 L1559.33 133.46 L1560.68 132.06 L1562.03 130.69 L1563.38 129.34 L1564.74 128.01 L1566.09 126.70 L1567.44 125.41 L1568.79 124.14 L1570.15 122.90 L1571.50 121.67 L1572.85 120.46 L1574.20 119.28 L1575.56 118.11 L1576.91 116.97 L1578.26 115.84 L1579.61 114.74 L1580.97 113.66 L1582.32 112.60 L1583.67 111.56 L1585.02 110.54 L1586.38 109.54 L1587.73 108.57 L1589.08 107.61 L1590.43 106.67 L1591.79 105.76 L1593.14 104.87 L1594.49 104.00 L1595.84 103.14 L1597.20 102.31 L1598.55 101.51 L1599.90 100.72 L1601.25 99.95 L1602.61 99.21 L1603.96 98.48 L1605.31 97.78 L1606.66 97.10 L1608.02 96.43 L1609.37 95.79 L1610.72 95.18 L1612.07 94.58 L1613.43 94.00 L1614.78 93.45 L1616.13 92.91 L1617.48 92.40 L1618.84 91.91 L1620.19 91.44 L1621.54 90.99 L1622.89 90.57 L1624.25 90.16 L1625.60 89.77 L1626.95 89.41 L1628.30 89.07 L1629.66 88.75 L1631.01 88.45 L1632.36 88.17 L1633.71 87.92 L1635.07 87.68 L1636.42 87.47 L1637.77 87.27 L1639.12 87.10 L1640.48 86.95 L1641.83 86.82 L1643.18 86.72 L1644.53 86.63 L1645.89 86.57 L1647.24 86.52 L1648.59 86.50 L1649.94 86.50 L1651.30 86.52 L1652.65 86.57 L1654.00 86.63" stroke="#ff0000" stroke-width="7.80" stroke-dasharray="19.000 15.572" stroke-dashoffset="19.500"/>
<path d="M1654.00 86.63 L1655.35 86.72 L1656.71 86.82 L1658.06 86.95 L1659.41 87.10 L1660.76 87.27 L1662.12 87.46 L1663.47 87.68 L1664.82 87.91 L1666.17 88.17 L1667.53 88.45 L1668.88 88.75 L1670.23 89.07 L1671.58 89.41 L1672.94 89.77 L1674.29 90.15 L1675.64 90.56 L1676.99 90.99 L1678.35 91.44 L1679.70 91.91 L1681.05 92.40 L1682.40 92.91 L1683.76 93.44 L1685.11 94.00 L1686.46 94.57 L1687.81 95.17 L1689.17 95.79 L1690.52 96.43 L1691.87 97.09 L1693.22 97.77 L1694.58 98.47 L1695.93 99.20 L1697.28 99.94 L1698.63 100.71 L1699.99 101.50 L1701.34 102.31 L1702.69 103.13 L1704.04 103.99 L1705.40 104.86 L1706.75 105.75 L1708.10 106.66 L1709.45 107.60 L1710.81 108.56 L1712.16 109.53 L1713.51 110.53 L1714.86 111.55 L1716.22 112.59 L1717.57 113.65 L1718.92 114.73 L1720.27 115.83 L1721.63 116.96 L1722.98 118.10 L1724.33 119.26 L1725.68 120.45 L1727.04 121.66 L1728.39 122.88 L1729.74 124.13 L1731.09 125.40 L1732.45 126.69 L1733.80 128.00 L1735.15 129.33 L1736.50 130.68 L1737.86 132.05 L1739.21 133.44 L1740.56 134.85 L1741.91 136.29 L1743.27 137.74 L1744.62 139.21 L1745.97 140.71 L1747.32 142.22 L1748.68 143.75 L1750.03 145.31 L1751.38 146.88 L1752.73 148.48 L1754.09 150.09 L1755.44 151.73 L1756.79 153.39 L1758.14 155.06 L1759.50 156.76 L1760.85 158.47 L1762.20 160.21 L1763.55 161.97 L1764.91 163.74 L1766.26 165.54 L1767.61 167.35 L1768.96 169.19 L1770.32 171.04 L1771.67 172.92 L1773.02 174.81 L1774.38 176.73 L1775.73 178.66 L1777.08 180.62 L1778.43 182.59 L1779.79 184.58 L1781.14 186.60 L1782.49 188.63 L1783.84 190.68 L1785.20 192.75 L1786.55 194.84 L1787.90 196.95 L1789.25 199.08 L1790.61 201.23 L1791.96 203.39 L1793.31 205.58 L1794.66 207.79 L1796.02 210.01 L1797.37 212.25 L1798.72 214.52 L1800.07 216.80 L1801.43 219.10 L1802.78 221.42 L1804.13 223.76 L1805.48 226.11 L1806.84 228.49 L1808.19 230.88 L1809.54 233.29 L1810.89 235.73 L1812.25 238.18 L1813.60 240.64 L1814.95 243.13 L1816.30 245.64 L1817.66 248.16 L1819.01 250.70 L1820.36 253.26 L1821.71 255.84 L1823.07 258.44 L1824.42 261.05 L1825.77 263.68 L1827.12 266.33 L1828.48 269.00 L1829.83 271.69 L1831.18 274.39 L1832.53 277.12 L1833.89 279.86 L1835.24 282.61 L1836.59 285.39 L1837.94 288.18 L1839.30 290.99 L1840.65 293.82 L1842.00 296.66 L1843.35 299.53 L1844.71 302.41 L1846.06 305.30 L1847.41 308.22 L1848.76 311.15 L1850.12 314.10 L1851.47 317.06 L1852.82 320.05 L1854.17 323.05 L1855.53 326.06 L1856.88 329.10 L1858.23 332.15 L1859.58 335.21 L1860.94 338.30 L1862.29 341.40 L1863.64 344.51 L1864.99 347.65 L1866.35 350.79 L1867.70 353.96 L1869.05 357.14 L1870.40 360.34 L1871.76 363.55 L1873.11 366.79 L1874.46 370.03 L1875.81 373.29 L1877.17 376.57 L1878.52 379.87 L1879.87 383.18 L1881.22 386.50 L1882.58 389.84 L1883.93 393.20 L1885.28 396.57 L1886.63 399.96 L1887.99 403.36 L1889.34 406.78 L1890.69 410.22 L1892.04 413.66 L1893.40 417.13 L1894.75 420.61 L1896.10 424.10 L1897.46 427.61 L1898.81 431.14 L1900.16 434.67 L1901.51 438.23 L1902.87 441.80 L1904.22 445.38 L1905.57 448.98 L1906.92 452.59 L1908.28 456.21 L1909.63 459.86 L1910.98 463.51 L1912.33 467.18 L1913.69 470.86 L1915.04 474.56 L1916.39 478.27 L1917.74 482.00 L1919.10 485.73 L1920.45 489.49 L1921.80 493.25 L1923.15 497.03 L1924.51 500.83 L1925.86 504.63 L1927.21 508.45 L1928.56 512.29 L1929.92 516.13 L1931.27 519.99 L1932.62 523.87 L1933.97 527.75 L1935.33 531.65 L1936.68 535.57 L1938.03 539.49 L1939.38 543.43 L1940.74 547.38 L1942.09 551.34 L1943.44 555.32 L1944.79 559.30 L1946.15 563.30 L1947.50 567.32 L1948.85 571.34 L1950.20 575.38 L1951.56 579.43 L1952.91 583.49 L1954.26 587.56 L1955.61 591.65 L1956.97 595.74 L1958.32 599.85 L1959.67 603.97 L1961.02 608.10 L1962.38 612.24 L1963.73 616.40 L1965.08 620.56 L1966.43 624.74 L1967.79 628.93 L1969.14 633.12 L1970.49 637.33 L1971.84 641.55 L1973.20 645.78 L1974.55 650.03 L1975.90 654.28 L1977.25 658.54 L1978.61 662.81 L1979.96 667.10 L1981.31 671.39 L1982.66 675.70 L1984.02 680.01 L1985.37 684.34 L1986.72 688.67 L1988.07 693.01 L1989.43 697.37 L1990.78 701.73 L1992.13 706.11 L1993.48 710.49 L1994.84 714.88 L1996.19 719.28 L1997.54 723.69 L1998.89 728.11 L2000.25 732.54 L2001.60 736.98 L2002.95 741.43 L2004.30 745.89 L2005.66 750.35 L2007.01 754.83 L2008.36 759.31 L2009.71 763.80 L2011.07 768.30 L2012.42 772.81 L2013.77 777.32 L2015.12 781.85 L2016.48 786.38 L2017.83 790.92 L2019.18 795.47 L2020.54 800.02 L2021.89 804.59 L2023.24 809.16 L2024.59 813.74 L2025.95 818.33 L2027.30 822.92 L2028.65 827.52 L2030.00 832.13 L2031.36 836.75 L2032.71 841.37 L2034.06 846.00 L2035.41 850.64 L2036.77 855.28 L2038.12 859.93 L2039.47 864.59 L2040.82 869.25 L2042.18 873.92 L2043.53 878.60 L2044.88 883.28 L2046.23 887.97 L2047.59 892.66 L2048.94 897.36 L2050.29 902.07 L2051.64 906.78 L2053.00 911.50 L2054.35 916.22 L2055.70 920.95 L2057.05 925.69 L2058.41 930.43 L2059.76 935.17 L2061.11 939.92 L2062.46 944.68 L2063.82 949.44 L2065.17 954.21 L2066.52 958.98 L2067.87 963.75 L2069.23 968.53 L2070.58 973.32 L2071.93 978.10 L2073.28 982.90 L2074.64 987.69 L2075.99 992.50 L2077.34 997.30 L2078.69 1002.11 L2080.05 1006.93 L2081.40 1011.74 L2082.75 1016.56 L2084.10 1021.39 L2085.46 1026.22 L2086.81 1031.05 L2088.16 1035.88 L2089.51 1040.72 L2090.87 1045.56 L2092.22 1050.41 L2093.57 1055.26 L2094.92 1060.11 L2096.28 1064.96 L2097.63 1069.81 L2098.98 1074.67 L2100.33 1079.53 L2101.69 1084.40 L2103.04 1089.26 L2104.39 1094.13 L2105.74 1099.00 L2107.10 1103.87 L2108.45 1108.75 L2109.80 1113.62 L2111.15 1118.50 L2112.51 1123.38 L2113.86 1128.26 L2115.21 1133.15 L2116.56 1138.03 L2117.92 1142.91 L2119.27 1147.80 L2120.62 1152.69 L2121.97 1157.58 L2123.33 1162.47 L2124.68 1167.36 L2126.03 1172.25 L2127.38 1177.14 L2128.74 1182.03 L2130.09 1186.93 L2131.44 1191.82 L2132.79 1196.71 L2134.15 1201.61 L2135.50 1206.50" stroke="#ff0000" stroke-width="7.80" stroke-dasharray="19.000 15.728" stroke-dashoffset="0.000"/>
<path d="M2135.50 1206.50 L2136.85 1201.60 L2138.21 1196.71 L2139.56 1191.81 L2140.91 1186.92 L2142.27 1182.02 L2143.62 1177.13 L2144.97 1172.23 L2146.33 1167.34 L2147.68 1162.45 L2149.03 1157.56 L2150.38 1152.67 L2151.74 1147.78 L2153.09 1142.89 L2154.44 1138.00 L2155.80 1133.11 L2157.15 1128.23 L2158.50 1123.35 L2159.86 1118.46 L2161.21 1113.58 L2162.56 1108.71 L2163.92 1103.83 L2165.27 1098.95 L2166.62 1094.08 L2167.97 1089.21 L2169.33 1084.34 L2170.68 1079.48 L2172.03 1074.62 L2173.39 1069.75 L2174.74 1064.90 L2176.09 1060.04 L2177.45 1055.19 L2178.80 1050.34 L2180.15 1045.49 L2181.51 1040.65 L2182.86 1035.81 L2184.21 1030.97 L2185.57 1026.14 L2186.92 1021.31 L2188.27 1016.48 L2189.62 1011.66 L2190.98 1006.84 L2192.33 1002.02 L2193.68 997.21 L2195.04 992.40 L2196.39 987.60 L2197.74 982.80 L2199.10 978.01 L2200.45 973.21 L2201.80 968.43 L2203.16 963.65 L2204.51 958.87 L2205.86 954.10 L2207.22 949.33 L2208.57 944.57 L2209.92 939.81 L2211.28 935.06 L2212.63 930.31 L2213.98 925.57 L2215.33 920.83 L2216.69 916.10 L2218.04 911.37 L2219.39 906.65 L2220.75 901.94 L2222.10 897.23 L2223.45 892.53 L2224.81 887.83 L2226.16 883.14 L2227.51 878.46 L2228.87 873.78 L2230.22 869.11 L2231.57 864.44 L2232.93 859.78 L2234.28 855.13 L2235.63 850.48 L2236.98 845.85 L2238.34 841.21 L2239.69 836.59 L2241.04 831.97 L2242.40 827.36 L2243.75 822.76 L2245.10 818.16 L2246.46 813.57 L2247.81 808.99 L2249.16 804.42 L2250.52 799.85 L2251.87 795.29 L2253.22 790.74 L2254.57 786.20 L2255.93 781.67 L2257.28 777.14 L2258.63 772.62 L2259.99 768.12 L2261.34 763.61 L2262.69 759.12 L2264.05 754.64 L2265.40 750.16 L2266.75 745.70 L2268.11 741.24 L2269.46 736.79 L2270.81 732.35 L2272.17 727.92 L2273.52 723.49 L2274.87 719.08 L2276.22 714.68 L2277.58 710.28 L2278.93 705.90 L2280.28 701.53 L2281.64 697.16 L2282.99 692.80 L2284.34 688.46 L2285.70 684.12 L2287.05 679.80 L2288.40 675.48 L2289.76 671.18 L2291.11 666.88 L2292.46 662.60 L2293.82 658.32 L2295.17 654.06 L2296.52 649.80 L2297.88 645.56 L2299.23 641.33 L2300.58 637.11 L2301.93 632.90 L2303.29 628.70 L2304.64 624.51 L2305.99 620.33 L2307.35 616.16 L2308.70 612.01 L2310.05 607.87 L2311.41 603.73 L2312.76 599.61 L2314.11 595.50 L2315.47 591.41 L2316.82 587.32 L2318.17 583.25 L2319.53 579.18 L2320.88 575.13 L2322.23 571.10 L2323.58 567.07 L2324.94 563.06 L2326.29 559.06 L2327.64 555.07 L2329.00 551.09 L2330.35 547.13 L2331.70 543.18 L2333.06 539.24 L2334.41 535.31 L2335.76 531.40 L2337.12 527.50 L2338.47 523.61 L2339.82 519.74 L2341.17 515.88 L2342.53 512.03 L2343.88 508.19 L2345.23 504.37 L2346.59 500.57 L2347.94 496.77 L2349.29 492.99 L2350.65 489.22 L2352.00 485.47" stroke="#ff0000" stroke-width="7.80" stroke-dasharray="19.000 15.953" stroke-dashoffset="0.000"/>
</g>
<circle cx="1162.1" cy="1206.4" r="9.2" fill="none" stroke="#000" stroke-width="8.6"/>
<circle cx="1648.4" cy="1206.4" r="9.2" fill="none" stroke="#000" stroke-width="8.6"/>
<g shape-rendering="crispEdges">
<rect x="554" y="969" width="341" height="171" fill="#fff" stroke="#000" stroke-width="2"/>
<rect x="572" y="1010" width="93" height="7" fill="#0000ff"/>
<rect x="572" y="1090" width="19" height="7" fill="#ff0000"/>
<rect x="608" y="1090" width="20" height="7" fill="#ff0000"/>
<rect x="645" y="1090" width="20" height="7" fill="#ff0000"/>
</g>
<text transform="translate(674.60 1036.00) scale(0.9313 1)" font-size="64.00" text-anchor="start" letter-spacing="0.836"><tspan dx="2.15">1</tspan><tspan dx="-2.15">0</tspan>00 m</text>
<text transform="translate(674.60 1117.00) scale(0.9313 1)" font-size="64.00" text-anchor="start" letter-spacing="0.836"><tspan dx="2.15">1</tspan><tspan dx="-2.15">5</tspan>00 m</text>
<text transform="translate(409.04 1268.90) scale(0.9313 1)" font-size="64.00" text-anchor="middle" letter-spacing="0.955">0.2</text>
<text transform="translate(626.04 1268.90) scale(0.9313 1)" font-size="64.00" text-anchor="middle" letter-spacing="0.955">0.4</text>
<text transform="translate(840.04 1268.90) scale(0.9313 1)" font-size="64.00" text-anchor="middle" letter-spacing="0.955">0.6</text>
<text transform="translate(1057.04 1268.90) scale(0.9313 1)" font-size="64.00" text-anchor="middle" letter-spacing="0.955">0.8</text>
<text transform="translate(1275.34 1268.90) scale(0.9313 1)" font-size="64.00" text-anchor="middle" letter-spacing="0.955">1</text>
<text transform="translate(1489.04 1268.90) scale(0.9313 1)" font-size="64.00" text-anchor="middle" letter-spacing="0.955"><tspan dx="2.15">1</tspan><tspan dx="-2.15">.</tspan>2</text>
<text transform="translate(1704.04 1268.90) scale(0.9313 1)" font-size="64.00" text-anchor="middle" letter-spacing="0.955"><tspan dx="2.15">1</tspan><tspan dx="-2.15">.</tspan>4</text>
<text transform="translate(1920.04 1268.90) scale(0.9313 1)" font-size="64.00" text-anchor="middle" letter-spacing="0.955"><tspan dx="2.15">1</tspan><tspan dx="-2.15">.</tspan>6</text>
<text transform="translate(2137.04 1268.90) scale(0.9313 1)" font-size="64.00" text-anchor="middle" letter-spacing="0.955"><tspan dx="2.15">1</tspan><tspan dx="-2.15">.</tspan>8</text>
<text transform="translate(2354.04 1268.90) scale(0.9313 1)" font-size="64.00" text-anchor="middle" letter-spacing="0.955">2</text>
<text transform="translate(187.54 1228.00) scale(0.9313 1)" font-size="64.00" text-anchor="end" letter-spacing="0.955">0</text>
<text transform="translate(185.49 946.00) scale(0.9313 1)" font-size="64.00" text-anchor="end" letter-spacing="0.955">0.5</text>
<text transform="translate(189.79 667.00) scale(0.9313 1)" font-size="64.00" text-anchor="end" letter-spacing="0.955">1</text>
<text transform="translate(183.49 386.00) scale(0.9313 1)" font-size="64.00" text-anchor="end" letter-spacing="0.955"><tspan dx="2.15">1</tspan><tspan dx="-2.15">.</tspan>5</text>
<text transform="translate(188.09 107.00) scale(0.9313 1)" font-size="64.00" text-anchor="end" letter-spacing="0.955">2</text>
<text transform="translate(1271.20 1328.90) scale(0.9578 1)" font-size="64.00" text-anchor="middle">Frequency [Hz]</text>
<text transform="translate(69.60 621.00) rotate(-90) scale(0.9602 1)" font-size="64.00" text-anchor="middle">Amplitude [V]</text>
<text transform="translate(2216.00 1356.90) scale(0.9375 1)" font-size="64.00" text-anchor="start" letter-spacing="1.127">x <tspan dx="2.13">1</tspan><tspan dx="-2.13">0</tspan></text>
<text transform="translate(2333.40 1319.00) scale(0.9563 1)" font-size="42.67" text-anchor="start">5</text>
</svg></body></html>
